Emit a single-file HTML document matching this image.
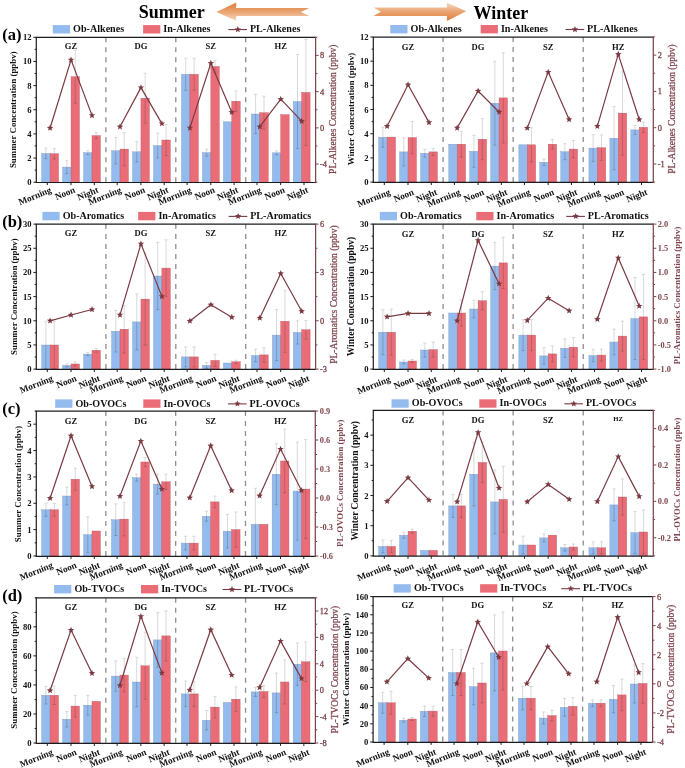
<!DOCTYPE html>
<html><head><meta charset="utf-8"><style>
html,body{margin:0;padding:0;background:#fff;}
body{width:685px;height:768px;overflow:hidden;}
svg{display:block;filter:blur(0.3px);font-family:"Liberation Serif", serif;}
</style></head><body>
<svg width="685" height="768" viewBox="0 0 685 768">
<rect width="685" height="768" fill="#fff"/>

<defs>
<linearGradient id="gR" x1="0" y1="0" x2="0" y2="1">
<stop offset="0" stop-color="#f6d9c2"/><stop offset="0.45" stop-color="#eaa877"/><stop offset="1" stop-color="#df7b36"/>
</linearGradient>
<linearGradient id="gL" x1="0" y1="0" x2="0" y2="1">
<stop offset="0" stop-color="#df7b36"/><stop offset="0.55" stop-color="#eaa877"/><stop offset="1" stop-color="#f6d9c2"/>
</linearGradient>
</defs>
<text x="138.8" y="18.2" font-size="18" font-weight="bold" fill="#000">Summer</text>
<polygon points="216.4,11.9 236.2,2.6 236.2,7.9 309.2,7.9 301,12 309.2,16.1 236.2,16.1 236.2,20.7" fill="url(#gL)"/>
<polygon points="466.2,11.2 446.9,2.7 446.9,7.5 373.4,7.5 381,11.8 373.4,16.1 446.9,16.1 446.9,20.9" fill="url(#gR)"/>
<text x="473.5" y="18.5" font-size="18" font-weight="bold" fill="#000">Winter</text>
<rect x="41.70" y="153.40" width="8.40" height="28.80" fill="#94bbee" stroke="#7f9cc4" stroke-width="0.4"/>
<rect x="50.10" y="153.70" width="8.40" height="28.50" fill="#ea6c77" stroke="#b85862" stroke-width="0.4"/>
<rect x="62.65" y="167.10" width="8.40" height="15.10" fill="#94bbee" stroke="#7f9cc4" stroke-width="0.4"/>
<rect x="71.05" y="76.70" width="8.40" height="105.50" fill="#ea6c77" stroke="#b85862" stroke-width="0.4"/>
<rect x="83.60" y="152.60" width="8.40" height="29.60" fill="#94bbee" stroke="#7f9cc4" stroke-width="0.4"/>
<rect x="92.00" y="135.60" width="8.40" height="46.60" fill="#ea6c77" stroke="#b85862" stroke-width="0.4"/>
<rect x="111.60" y="150.70" width="8.40" height="31.50" fill="#94bbee" stroke="#7f9cc4" stroke-width="0.4"/>
<rect x="120.00" y="149.10" width="8.40" height="33.10" fill="#ea6c77" stroke="#b85862" stroke-width="0.4"/>
<rect x="132.55" y="151.80" width="8.40" height="30.40" fill="#94bbee" stroke="#7f9cc4" stroke-width="0.4"/>
<rect x="140.95" y="98.20" width="8.40" height="84.00" fill="#ea6c77" stroke="#b85862" stroke-width="0.4"/>
<rect x="153.50" y="145.60" width="8.40" height="36.60" fill="#94bbee" stroke="#7f9cc4" stroke-width="0.4"/>
<rect x="161.90" y="140.00" width="8.40" height="42.20" fill="#ea6c77" stroke="#b85862" stroke-width="0.4"/>
<rect x="181.50" y="74.30" width="8.40" height="107.90" fill="#94bbee" stroke="#7f9cc4" stroke-width="0.4"/>
<rect x="189.90" y="74.30" width="8.40" height="107.90" fill="#ea6c77" stroke="#b85862" stroke-width="0.4"/>
<rect x="202.45" y="152.60" width="8.40" height="29.60" fill="#94bbee" stroke="#7f9cc4" stroke-width="0.4"/>
<rect x="210.85" y="66.50" width="8.40" height="115.70" fill="#ea6c77" stroke="#b85862" stroke-width="0.4"/>
<rect x="223.40" y="121.80" width="8.40" height="60.40" fill="#94bbee" stroke="#7f9cc4" stroke-width="0.4"/>
<rect x="231.80" y="101.20" width="8.40" height="81.00" fill="#ea6c77" stroke="#b85862" stroke-width="0.4"/>
<rect x="251.40" y="114.00" width="8.40" height="68.20" fill="#94bbee" stroke="#7f9cc4" stroke-width="0.4"/>
<rect x="259.80" y="112.70" width="8.40" height="69.50" fill="#ea6c77" stroke="#b85862" stroke-width="0.4"/>
<rect x="272.35" y="152.80" width="8.40" height="29.40" fill="#94bbee" stroke="#7f9cc4" stroke-width="0.4"/>
<rect x="280.75" y="114.70" width="8.40" height="67.50" fill="#ea6c77" stroke="#b85862" stroke-width="0.4"/>
<rect x="293.30" y="101.50" width="8.40" height="80.70" fill="#94bbee" stroke="#7f9cc4" stroke-width="0.4"/>
<rect x="301.70" y="92.40" width="8.40" height="89.80" fill="#ea6c77" stroke="#b85862" stroke-width="0.4"/>
<path d="M45.90 148.10V153.40M44.30 148.10H47.50" stroke="#cfcfcf" stroke-width="0.8" fill="none"/>
<path d="M45.90 153.40V158.70M44.30 158.70H47.50" stroke="#3a3a3a" stroke-opacity="0.33" stroke-width="0.8" fill="none"/>
<path d="M54.30 148.40V153.70M52.70 148.40H55.90" stroke="#cfcfcf" stroke-width="0.8" fill="none"/>
<path d="M54.30 153.70V159.00M52.70 159.00H55.90" stroke="#3a3a3a" stroke-opacity="0.33" stroke-width="0.8" fill="none"/>
<path d="M66.85 160.70V167.10M65.25 160.70H68.45" stroke="#cfcfcf" stroke-width="0.8" fill="none"/>
<path d="M66.85 167.10V173.50M65.25 173.50H68.45" stroke="#3a3a3a" stroke-opacity="0.33" stroke-width="0.8" fill="none"/>
<path d="M75.25 50.20V76.70M73.65 50.20H76.85" stroke="#cfcfcf" stroke-width="0.8" fill="none"/>
<path d="M75.25 76.70V103.20M73.65 103.20H76.85" stroke="#3a3a3a" stroke-opacity="0.33" stroke-width="0.8" fill="none"/>
<path d="M87.80 150.70V152.60M86.20 150.70H89.40" stroke="#cfcfcf" stroke-width="0.8" fill="none"/>
<path d="M87.80 152.60V154.50M86.20 154.50H89.40" stroke="#3a3a3a" stroke-opacity="0.33" stroke-width="0.8" fill="none"/>
<path d="M96.20 132.60V135.60M94.60 132.60H97.80" stroke="#cfcfcf" stroke-width="0.8" fill="none"/>
<path d="M96.20 135.60V138.60M94.60 138.60H97.80" stroke="#3a3a3a" stroke-opacity="0.33" stroke-width="0.8" fill="none"/>
<path d="M115.80 137.40V150.70M114.20 137.40H117.40" stroke="#cfcfcf" stroke-width="0.8" fill="none"/>
<path d="M115.80 150.70V164.00M114.20 164.00H117.40" stroke="#3a3a3a" stroke-opacity="0.33" stroke-width="0.8" fill="none"/>
<path d="M124.20 132.50V149.10M122.60 132.50H125.80" stroke="#cfcfcf" stroke-width="0.8" fill="none"/>
<path d="M124.20 149.10V165.70M122.60 165.70H125.80" stroke="#3a3a3a" stroke-opacity="0.33" stroke-width="0.8" fill="none"/>
<path d="M136.75 141.60V151.80M135.15 141.60H138.35" stroke="#cfcfcf" stroke-width="0.8" fill="none"/>
<path d="M136.75 151.80V162.00M135.15 162.00H138.35" stroke="#3a3a3a" stroke-opacity="0.33" stroke-width="0.8" fill="none"/>
<path d="M145.15 73.20V98.20M143.55 73.20H146.75" stroke="#cfcfcf" stroke-width="0.8" fill="none"/>
<path d="M145.15 98.20V123.20M143.55 123.20H146.75" stroke="#3a3a3a" stroke-opacity="0.33" stroke-width="0.8" fill="none"/>
<path d="M157.70 133.20V145.60M156.10 133.20H159.30" stroke="#cfcfcf" stroke-width="0.8" fill="none"/>
<path d="M157.70 145.60V158.00M156.10 158.00H159.30" stroke="#3a3a3a" stroke-opacity="0.33" stroke-width="0.8" fill="none"/>
<path d="M166.10 124.50V140.00M164.50 124.50H167.70" stroke="#cfcfcf" stroke-width="0.8" fill="none"/>
<path d="M166.10 140.00V155.50M164.50 155.50H167.70" stroke="#3a3a3a" stroke-opacity="0.33" stroke-width="0.8" fill="none"/>
<path d="M185.70 58.30V74.30M184.10 58.30H187.30" stroke="#cfcfcf" stroke-width="0.8" fill="none"/>
<path d="M185.70 74.30V90.30M184.10 90.30H187.30" stroke="#3a3a3a" stroke-opacity="0.33" stroke-width="0.8" fill="none"/>
<path d="M194.10 58.30V74.30M192.50 58.30H195.70" stroke="#cfcfcf" stroke-width="0.8" fill="none"/>
<path d="M194.10 74.30V90.30M192.50 90.30H195.70" stroke="#3a3a3a" stroke-opacity="0.33" stroke-width="0.8" fill="none"/>
<path d="M206.65 149.10V152.60M205.05 149.10H208.25" stroke="#cfcfcf" stroke-width="0.8" fill="none"/>
<path d="M206.65 152.60V156.10M205.05 156.10H208.25" stroke="#3a3a3a" stroke-opacity="0.33" stroke-width="0.8" fill="none"/>
<path d="M215.05 60.70V66.50M213.45 60.70H216.65" stroke="#cfcfcf" stroke-width="0.8" fill="none"/>
<path d="M215.05 66.50V72.30M213.45 72.30H216.65" stroke="#3a3a3a" stroke-opacity="0.33" stroke-width="0.8" fill="none"/>
<path d="M236.00 90.80V101.20M234.40 90.80H237.60" stroke="#cfcfcf" stroke-width="0.8" fill="none"/>
<path d="M236.00 101.20V111.60M234.40 111.60H237.60" stroke="#3a3a3a" stroke-opacity="0.33" stroke-width="0.8" fill="none"/>
<path d="M255.60 94.50V114.00M254.00 94.50H257.20" stroke="#cfcfcf" stroke-width="0.8" fill="none"/>
<path d="M255.60 114.00V133.50M254.00 133.50H257.20" stroke="#3a3a3a" stroke-opacity="0.33" stroke-width="0.8" fill="none"/>
<path d="M264.00 96.20V112.70M262.40 96.20H265.60" stroke="#cfcfcf" stroke-width="0.8" fill="none"/>
<path d="M264.00 112.70V129.20M262.40 129.20H265.60" stroke="#3a3a3a" stroke-opacity="0.33" stroke-width="0.8" fill="none"/>
<path d="M276.55 150.80V152.80M274.95 150.80H278.15" stroke="#cfcfcf" stroke-width="0.8" fill="none"/>
<path d="M276.55 152.80V154.80M274.95 154.80H278.15" stroke="#3a3a3a" stroke-opacity="0.33" stroke-width="0.8" fill="none"/>
<path d="M297.50 54.50V101.50M295.90 54.50H299.10" stroke="#cfcfcf" stroke-width="0.8" fill="none"/>
<path d="M297.50 101.50V148.50M295.90 148.50H299.10" stroke="#3a3a3a" stroke-opacity="0.33" stroke-width="0.8" fill="none"/>
<path d="M305.90 39.40V92.40M304.30 39.40H307.50" stroke="#cfcfcf" stroke-width="0.8" fill="none"/>
<path d="M305.90 92.40V145.40M304.30 145.40H307.50" stroke="#3a3a3a" stroke-opacity="0.33" stroke-width="0.8" fill="none"/>
<line x1="105.90" y1="37.30" x2="105.90" y2="182.20" stroke="#8e8e8e" stroke-width="1.3" stroke-dasharray="5 5"/>
<line x1="175.80" y1="37.30" x2="175.80" y2="182.20" stroke="#8e8e8e" stroke-width="1.3" stroke-dasharray="5 5"/>
<line x1="245.70" y1="37.30" x2="245.70" y2="182.20" stroke="#8e8e8e" stroke-width="1.3" stroke-dasharray="5 5"/>
<polyline points="50.10,128.00 71.05,59.90 92.00,115.40" fill="none" stroke="#7b3a42" stroke-width="1.2"/>
<polygon points="50.10,124.60 50.98,126.79 53.33,126.95 51.53,128.46 52.10,130.75 50.10,129.50 48.10,130.75 48.67,128.46 46.87,126.95 49.22,126.79" fill="#7b3a42"/>
<polygon points="71.05,56.50 71.93,58.69 74.28,58.85 72.48,60.36 73.05,62.65 71.05,61.40 69.05,62.65 69.62,60.36 67.82,58.85 70.17,58.69" fill="#7b3a42"/>
<polygon points="92.00,112.00 92.88,114.19 95.23,114.35 93.43,115.86 94.00,118.15 92.00,116.90 90.00,118.15 90.57,115.86 88.77,114.35 91.12,114.19" fill="#7b3a42"/>
<polyline points="120.00,126.70 140.95,87.60 161.90,123.60" fill="none" stroke="#7b3a42" stroke-width="1.2"/>
<polygon points="120.00,123.30 120.88,125.49 123.23,125.65 121.43,127.16 122.00,129.45 120.00,128.20 118.00,129.45 118.57,127.16 116.77,125.65 119.12,125.49" fill="#7b3a42"/>
<polygon points="140.95,84.20 141.83,86.39 144.18,86.55 142.38,88.06 142.95,90.35 140.95,89.10 138.95,90.35 139.52,88.06 137.72,86.55 140.07,86.39" fill="#7b3a42"/>
<polygon points="161.90,120.20 162.78,122.39 165.13,122.55 163.33,124.06 163.90,126.35 161.90,125.10 159.90,126.35 160.47,124.06 158.67,122.55 161.02,122.39" fill="#7b3a42"/>
<polyline points="189.90,127.90 210.85,63.20 231.80,112.30" fill="none" stroke="#7b3a42" stroke-width="1.2"/>
<polygon points="189.90,124.50 190.78,126.69 193.13,126.85 191.33,128.36 191.90,130.65 189.90,129.40 187.90,130.65 188.47,128.36 186.67,126.85 189.02,126.69" fill="#7b3a42"/>
<polygon points="210.85,59.80 211.73,61.99 214.08,62.15 212.28,63.66 212.85,65.95 210.85,64.70 208.85,65.95 209.42,63.66 207.62,62.15 209.97,61.99" fill="#7b3a42"/>
<polygon points="231.80,108.90 232.68,111.09 235.03,111.25 233.23,112.76 233.80,115.05 231.80,113.80 229.80,115.05 230.37,112.76 228.57,111.25 230.92,111.09" fill="#7b3a42"/>
<polyline points="259.80,126.70 280.75,99.20 301.70,121.20" fill="none" stroke="#7b3a42" stroke-width="1.2"/>
<polygon points="259.80,123.30 260.68,125.49 263.03,125.65 261.23,127.16 261.80,129.45 259.80,128.20 257.80,129.45 258.37,127.16 256.57,125.65 258.92,125.49" fill="#7b3a42"/>
<polygon points="280.75,95.80 281.63,97.99 283.98,98.15 282.18,99.66 282.75,101.95 280.75,100.70 278.75,101.95 279.32,99.66 277.52,98.15 279.87,97.99" fill="#7b3a42"/>
<polygon points="301.70,117.80 302.58,119.99 304.93,120.15 303.13,121.66 303.70,123.95 301.70,122.70 299.70,123.95 300.27,121.66 298.47,120.15 300.82,119.99" fill="#7b3a42"/>
<text x="71.00" y="48.60" font-size="8.6" font-weight="bold" text-anchor="middle" fill="#111">GZ</text>
<text x="140.90" y="48.60" font-size="8.6" font-weight="bold" text-anchor="middle" fill="#111">DG</text>
<text x="210.80" y="48.60" font-size="8.6" font-weight="bold" text-anchor="middle" fill="#111">SZ</text>
<text x="280.70" y="48.60" font-size="8.6" font-weight="bold" text-anchor="middle" fill="#111">HZ</text>
<line x1="35.70" y1="37.30" x2="315.60" y2="37.30" stroke="#1c1c1c" stroke-width="1.25"/>
<line x1="35.70" y1="182.50" x2="315.60" y2="182.50" stroke="#1c1c1c" stroke-width="1.2"/>
<line x1="36.30" y1="37.30" x2="36.30" y2="182.50" stroke="#1c1c1c" stroke-width="1.2"/>
<line x1="315.60" y1="36.70" x2="315.60" y2="183.10" stroke="#7e444c" stroke-width="1.25"/>
<line x1="33.40" y1="182.20" x2="36.30" y2="182.20" stroke="#1c1c1c" stroke-width="1"/>
<line x1="34.70" y1="170.12" x2="36.30" y2="170.12" stroke="#1c1c1c" stroke-width="1"/>
<line x1="33.40" y1="158.05" x2="36.30" y2="158.05" stroke="#1c1c1c" stroke-width="1"/>
<line x1="34.70" y1="145.97" x2="36.30" y2="145.97" stroke="#1c1c1c" stroke-width="1"/>
<line x1="33.40" y1="133.90" x2="36.30" y2="133.90" stroke="#1c1c1c" stroke-width="1"/>
<line x1="34.70" y1="121.82" x2="36.30" y2="121.82" stroke="#1c1c1c" stroke-width="1"/>
<line x1="33.40" y1="109.75" x2="36.30" y2="109.75" stroke="#1c1c1c" stroke-width="1"/>
<line x1="34.70" y1="97.67" x2="36.30" y2="97.67" stroke="#1c1c1c" stroke-width="1"/>
<line x1="33.40" y1="85.60" x2="36.30" y2="85.60" stroke="#1c1c1c" stroke-width="1"/>
<line x1="34.70" y1="73.53" x2="36.30" y2="73.53" stroke="#1c1c1c" stroke-width="1"/>
<line x1="33.40" y1="61.45" x2="36.30" y2="61.45" stroke="#1c1c1c" stroke-width="1"/>
<line x1="34.70" y1="49.38" x2="36.30" y2="49.38" stroke="#1c1c1c" stroke-width="1"/>
<line x1="33.40" y1="37.30" x2="36.30" y2="37.30" stroke="#1c1c1c" stroke-width="1"/>
<text x="31.50" y="185.20" font-size="8.6" font-weight="bold" text-anchor="end" fill="#111">0</text>
<text x="31.50" y="161.05" font-size="8.6" font-weight="bold" text-anchor="end" fill="#111">2</text>
<text x="31.50" y="136.90" font-size="8.6" font-weight="bold" text-anchor="end" fill="#111">4</text>
<text x="31.50" y="112.75" font-size="8.6" font-weight="bold" text-anchor="end" fill="#111">6</text>
<text x="31.50" y="88.60" font-size="8.6" font-weight="bold" text-anchor="end" fill="#111">8</text>
<text x="31.50" y="64.45" font-size="8.6" font-weight="bold" text-anchor="end" fill="#111">10</text>
<text x="31.50" y="40.30" font-size="8.6" font-weight="bold" text-anchor="end" fill="#111">12</text>
<line x1="315.60" y1="182.20" x2="317.40" y2="182.20" stroke="#7e444c" stroke-width="1"/>
<line x1="315.60" y1="164.09" x2="318.60" y2="164.09" stroke="#7e444c" stroke-width="1"/>
<line x1="315.60" y1="145.97" x2="317.40" y2="145.97" stroke="#7e444c" stroke-width="1"/>
<line x1="315.60" y1="127.86" x2="318.60" y2="127.86" stroke="#7e444c" stroke-width="1"/>
<line x1="315.60" y1="109.75" x2="317.40" y2="109.75" stroke="#7e444c" stroke-width="1"/>
<line x1="315.60" y1="91.64" x2="318.60" y2="91.64" stroke="#7e444c" stroke-width="1"/>
<line x1="315.60" y1="73.53" x2="317.40" y2="73.53" stroke="#7e444c" stroke-width="1"/>
<line x1="315.60" y1="55.41" x2="318.60" y2="55.41" stroke="#7e444c" stroke-width="1"/>
<line x1="315.60" y1="37.30" x2="317.40" y2="37.30" stroke="#7e444c" stroke-width="1"/>
<text x="320.00" y="166.99" font-size="8.4" stroke="#7e444c" stroke-width="0.3" text-anchor="start" fill="#7e444c">-4</text>
<text x="320.00" y="130.76" font-size="8.4" stroke="#7e444c" stroke-width="0.3" text-anchor="start" fill="#7e444c">0</text>
<text x="320.00" y="94.54" font-size="8.4" stroke="#7e444c" stroke-width="0.3" text-anchor="start" fill="#7e444c">4</text>
<text x="320.00" y="58.31" font-size="8.4" stroke="#7e444c" stroke-width="0.3" text-anchor="start" fill="#7e444c">8</text>
<line x1="47.30" y1="182.50" x2="47.30" y2="185.10" stroke="#1c1c1c" stroke-width="1"/>
<text transform="translate(52.10 192.20) rotate(-22)" font-size="9.2" font-weight="bold" text-anchor="end" fill="#111">Morning</text>
<line x1="71.00" y1="182.50" x2="71.00" y2="185.10" stroke="#1c1c1c" stroke-width="1"/>
<text transform="translate(75.80 192.20) rotate(-22)" font-size="9.2" font-weight="bold" text-anchor="end" fill="#111">Noon</text>
<line x1="94.30" y1="182.50" x2="94.30" y2="185.10" stroke="#1c1c1c" stroke-width="1"/>
<text transform="translate(99.10 192.20) rotate(-22)" font-size="9.2" font-weight="bold" text-anchor="end" fill="#111">Night</text>
<line x1="117.20" y1="182.50" x2="117.20" y2="185.10" stroke="#1c1c1c" stroke-width="1"/>
<text transform="translate(122.00 192.20) rotate(-22)" font-size="9.2" font-weight="bold" text-anchor="end" fill="#111">Morning</text>
<line x1="140.90" y1="182.50" x2="140.90" y2="185.10" stroke="#1c1c1c" stroke-width="1"/>
<text transform="translate(145.70 192.20) rotate(-22)" font-size="9.2" font-weight="bold" text-anchor="end" fill="#111">Noon</text>
<line x1="164.20" y1="182.50" x2="164.20" y2="185.10" stroke="#1c1c1c" stroke-width="1"/>
<text transform="translate(169.00 192.20) rotate(-22)" font-size="9.2" font-weight="bold" text-anchor="end" fill="#111">Night</text>
<line x1="187.10" y1="182.50" x2="187.10" y2="185.10" stroke="#1c1c1c" stroke-width="1"/>
<text transform="translate(191.90 192.20) rotate(-22)" font-size="9.2" font-weight="bold" text-anchor="end" fill="#111">Morning</text>
<line x1="210.80" y1="182.50" x2="210.80" y2="185.10" stroke="#1c1c1c" stroke-width="1"/>
<text transform="translate(215.60 192.20) rotate(-22)" font-size="9.2" font-weight="bold" text-anchor="end" fill="#111">Noon</text>
<line x1="234.10" y1="182.50" x2="234.10" y2="185.10" stroke="#1c1c1c" stroke-width="1"/>
<text transform="translate(238.90 192.20) rotate(-22)" font-size="9.2" font-weight="bold" text-anchor="end" fill="#111">Night</text>
<line x1="257.00" y1="182.50" x2="257.00" y2="185.10" stroke="#1c1c1c" stroke-width="1"/>
<text transform="translate(261.80 192.20) rotate(-22)" font-size="9.2" font-weight="bold" text-anchor="end" fill="#111">Morning</text>
<line x1="280.70" y1="182.50" x2="280.70" y2="185.10" stroke="#1c1c1c" stroke-width="1"/>
<text transform="translate(285.50 192.20) rotate(-22)" font-size="9.2" font-weight="bold" text-anchor="end" fill="#111">Noon</text>
<line x1="304.00" y1="182.50" x2="304.00" y2="185.10" stroke="#1c1c1c" stroke-width="1"/>
<text transform="translate(308.80 192.20) rotate(-22)" font-size="9.2" font-weight="bold" text-anchor="end" fill="#111">Night</text>
<text transform="translate(16.41 109.75) rotate(-90)" font-size="8.90" font-weight="bold" text-anchor="middle" fill="#111">Summer Concentration (ppbv)</text>
<text transform="translate(336.17 109.25) rotate(-90)" font-size="9.50" stroke="#7e444c" stroke-width="0.25" text-anchor="middle" fill="#7e444c">PL-Alkenes Concentration (ppbv)</text>
<rect x="52.80" y="25.10" width="17.2" height="8.4" fill="#94bbee"/>
<text x="73.10" y="32.20" font-size="10.1" font-weight="bold" fill="#111">Ob-Alkenes</text>
<rect x="143.10" y="25.10" width="17.2" height="8.4" fill="#ea6c77"/>
<text x="163.30" y="32.20" font-size="10.1" font-weight="bold" fill="#111">In-Alkenes</text>
<line x1="228.30" y1="29.60" x2="247.00" y2="29.60" stroke="#7b3a42" stroke-width="1.1"/>
<polygon points="237.80,26.10 238.68,28.29 241.03,28.45 239.23,29.96 239.80,32.25 237.80,31.00 235.80,32.25 236.37,29.96 234.57,28.45 236.92,28.29" fill="#7b3a42"/>
<text x="249.90" y="32.20" font-size="10.1" font-weight="bold" fill="#111">PL-Alkenes</text>
<text x="2.2" y="39.90" font-size="16.5" font-weight="bold" fill="#000">(a)</text>
<rect x="378.70" y="137.30" width="8.40" height="44.80" fill="#94bbee" stroke="#7f9cc4" stroke-width="0.4"/>
<rect x="387.10" y="137.10" width="8.40" height="45.00" fill="#ea6c77" stroke="#b85862" stroke-width="0.4"/>
<rect x="399.65" y="151.90" width="8.40" height="30.20" fill="#94bbee" stroke="#7f9cc4" stroke-width="0.4"/>
<rect x="408.05" y="137.60" width="8.40" height="44.50" fill="#ea6c77" stroke="#b85862" stroke-width="0.4"/>
<rect x="420.60" y="153.20" width="8.40" height="28.90" fill="#94bbee" stroke="#7f9cc4" stroke-width="0.4"/>
<rect x="429.00" y="151.90" width="8.40" height="30.20" fill="#ea6c77" stroke="#b85862" stroke-width="0.4"/>
<rect x="448.78" y="144.20" width="8.40" height="37.90" fill="#94bbee" stroke="#7f9cc4" stroke-width="0.4"/>
<rect x="457.18" y="144.20" width="8.40" height="37.90" fill="#ea6c77" stroke="#b85862" stroke-width="0.4"/>
<rect x="469.73" y="151.30" width="8.40" height="30.80" fill="#94bbee" stroke="#7f9cc4" stroke-width="0.4"/>
<rect x="478.12" y="139.20" width="8.40" height="42.90" fill="#ea6c77" stroke="#b85862" stroke-width="0.4"/>
<rect x="490.68" y="103.20" width="8.40" height="78.90" fill="#94bbee" stroke="#7f9cc4" stroke-width="0.4"/>
<rect x="499.07" y="97.90" width="8.40" height="84.20" fill="#ea6c77" stroke="#b85862" stroke-width="0.4"/>
<rect x="518.85" y="144.80" width="8.40" height="37.30" fill="#94bbee" stroke="#7f9cc4" stroke-width="0.4"/>
<rect x="527.25" y="144.80" width="8.40" height="37.30" fill="#ea6c77" stroke="#b85862" stroke-width="0.4"/>
<rect x="539.80" y="162.20" width="8.40" height="19.90" fill="#94bbee" stroke="#7f9cc4" stroke-width="0.4"/>
<rect x="548.20" y="144.20" width="8.40" height="37.90" fill="#ea6c77" stroke="#b85862" stroke-width="0.4"/>
<rect x="560.75" y="151.70" width="8.40" height="30.40" fill="#94bbee" stroke="#7f9cc4" stroke-width="0.4"/>
<rect x="569.15" y="149.10" width="8.40" height="33.00" fill="#ea6c77" stroke="#b85862" stroke-width="0.4"/>
<rect x="588.92" y="148.10" width="8.40" height="34.00" fill="#94bbee" stroke="#7f9cc4" stroke-width="0.4"/>
<rect x="597.32" y="147.70" width="8.40" height="34.40" fill="#ea6c77" stroke="#b85862" stroke-width="0.4"/>
<rect x="609.87" y="138.20" width="8.40" height="43.90" fill="#94bbee" stroke="#7f9cc4" stroke-width="0.4"/>
<rect x="618.27" y="113.10" width="8.40" height="69.00" fill="#ea6c77" stroke="#b85862" stroke-width="0.4"/>
<rect x="630.82" y="129.90" width="8.40" height="52.20" fill="#94bbee" stroke="#7f9cc4" stroke-width="0.4"/>
<rect x="639.22" y="127.30" width="8.40" height="54.80" fill="#ea6c77" stroke="#b85862" stroke-width="0.4"/>
<path d="M382.90 127.30V137.30M381.30 127.30H384.50" stroke="#cfcfcf" stroke-width="0.8" fill="none"/>
<path d="M382.90 137.30V147.30M381.30 147.30H384.50" stroke="#3a3a3a" stroke-opacity="0.33" stroke-width="0.8" fill="none"/>
<path d="M403.85 137.90V151.90M402.25 137.90H405.45" stroke="#cfcfcf" stroke-width="0.8" fill="none"/>
<path d="M403.85 151.90V165.90M402.25 165.90H405.45" stroke="#3a3a3a" stroke-opacity="0.33" stroke-width="0.8" fill="none"/>
<path d="M412.25 121.60V137.60M410.65 121.60H413.85" stroke="#cfcfcf" stroke-width="0.8" fill="none"/>
<path d="M412.25 137.60V153.60M410.65 153.60H413.85" stroke="#3a3a3a" stroke-opacity="0.33" stroke-width="0.8" fill="none"/>
<path d="M424.80 149.30V153.20M423.20 149.30H426.40" stroke="#cfcfcf" stroke-width="0.8" fill="none"/>
<path d="M424.80 153.20V157.10M423.20 157.10H426.40" stroke="#3a3a3a" stroke-opacity="0.33" stroke-width="0.8" fill="none"/>
<path d="M433.20 148.40V151.90M431.60 148.40H434.80" stroke="#cfcfcf" stroke-width="0.8" fill="none"/>
<path d="M433.20 151.90V155.40M431.60 155.40H434.80" stroke="#3a3a3a" stroke-opacity="0.33" stroke-width="0.8" fill="none"/>
<path d="M461.38 131.20V144.20M459.77 131.20H462.98" stroke="#cfcfcf" stroke-width="0.8" fill="none"/>
<path d="M461.38 144.20V157.20M459.77 157.20H462.98" stroke="#3a3a3a" stroke-opacity="0.33" stroke-width="0.8" fill="none"/>
<path d="M473.93 135.30V151.30M472.32 135.30H475.53" stroke="#cfcfcf" stroke-width="0.8" fill="none"/>
<path d="M473.93 151.30V167.30M472.32 167.30H475.53" stroke="#3a3a3a" stroke-opacity="0.33" stroke-width="0.8" fill="none"/>
<path d="M482.32 118.70V139.20M480.72 118.70H483.93" stroke="#cfcfcf" stroke-width="0.8" fill="none"/>
<path d="M482.32 139.20V159.70M480.72 159.70H483.93" stroke="#3a3a3a" stroke-opacity="0.33" stroke-width="0.8" fill="none"/>
<path d="M494.88 61.20V103.20M493.27 61.20H496.48" stroke="#cfcfcf" stroke-width="0.8" fill="none"/>
<path d="M494.88 103.20V145.20M493.27 145.20H496.48" stroke="#3a3a3a" stroke-opacity="0.33" stroke-width="0.8" fill="none"/>
<path d="M503.27 52.90V97.90M501.67 52.90H504.88" stroke="#cfcfcf" stroke-width="0.8" fill="none"/>
<path d="M503.27 97.90V142.90M501.67 142.90H504.88" stroke="#3a3a3a" stroke-opacity="0.33" stroke-width="0.8" fill="none"/>
<path d="M531.45 127.80V144.80M529.85 127.80H533.05" stroke="#cfcfcf" stroke-width="0.8" fill="none"/>
<path d="M531.45 144.80V161.80M529.85 161.80H533.05" stroke="#3a3a3a" stroke-opacity="0.33" stroke-width="0.8" fill="none"/>
<path d="M544.00 159.00V162.20M542.40 159.00H545.60" stroke="#cfcfcf" stroke-width="0.8" fill="none"/>
<path d="M544.00 162.20V165.40M542.40 165.40H545.60" stroke="#3a3a3a" stroke-opacity="0.33" stroke-width="0.8" fill="none"/>
<path d="M552.40 139.40V144.20M550.80 139.40H554.00" stroke="#cfcfcf" stroke-width="0.8" fill="none"/>
<path d="M552.40 144.20V149.00M550.80 149.00H554.00" stroke="#3a3a3a" stroke-opacity="0.33" stroke-width="0.8" fill="none"/>
<path d="M564.95 143.70V151.70M563.35 143.70H566.55" stroke="#cfcfcf" stroke-width="0.8" fill="none"/>
<path d="M564.95 151.70V159.70M563.35 159.70H566.55" stroke="#3a3a3a" stroke-opacity="0.33" stroke-width="0.8" fill="none"/>
<path d="M573.35 140.50V149.10M571.75 140.50H574.95" stroke="#cfcfcf" stroke-width="0.8" fill="none"/>
<path d="M573.35 149.10V157.70M571.75 157.70H574.95" stroke="#3a3a3a" stroke-opacity="0.33" stroke-width="0.8" fill="none"/>
<path d="M593.12 134.80V148.10M591.52 134.80H594.72" stroke="#cfcfcf" stroke-width="0.8" fill="none"/>
<path d="M593.12 148.10V161.40M591.52 161.40H594.72" stroke="#3a3a3a" stroke-opacity="0.33" stroke-width="0.8" fill="none"/>
<path d="M601.52 135.00V147.70M599.92 135.00H603.12" stroke="#cfcfcf" stroke-width="0.8" fill="none"/>
<path d="M601.52 147.70V160.40M599.92 160.40H603.12" stroke="#3a3a3a" stroke-opacity="0.33" stroke-width="0.8" fill="none"/>
<path d="M614.07 106.60V138.20M612.47 106.60H615.67" stroke="#cfcfcf" stroke-width="0.8" fill="none"/>
<path d="M614.07 138.20V169.80M612.47 169.80H615.67" stroke="#3a3a3a" stroke-opacity="0.33" stroke-width="0.8" fill="none"/>
<path d="M622.47 71.10V113.10M620.87 71.10H624.07" stroke="#cfcfcf" stroke-width="0.8" fill="none"/>
<path d="M622.47 113.10V155.10M620.87 155.10H624.07" stroke="#3a3a3a" stroke-opacity="0.33" stroke-width="0.8" fill="none"/>
<path d="M635.02 125.40V129.90M633.42 125.40H636.62" stroke="#cfcfcf" stroke-width="0.8" fill="none"/>
<path d="M635.02 129.90V134.40M633.42 134.40H636.62" stroke="#3a3a3a" stroke-opacity="0.33" stroke-width="0.8" fill="none"/>
<path d="M643.42 122.10V127.30M641.82 122.10H645.02" stroke="#cfcfcf" stroke-width="0.8" fill="none"/>
<path d="M643.42 127.30V132.50M641.82 132.50H645.02" stroke="#3a3a3a" stroke-opacity="0.33" stroke-width="0.8" fill="none"/>
<line x1="443.07" y1="37.00" x2="443.07" y2="182.10" stroke="#8e8e8e" stroke-width="1.3" stroke-dasharray="5 5"/>
<line x1="513.15" y1="37.00" x2="513.15" y2="182.10" stroke="#8e8e8e" stroke-width="1.3" stroke-dasharray="5 5"/>
<line x1="583.22" y1="37.00" x2="583.22" y2="182.10" stroke="#8e8e8e" stroke-width="1.3" stroke-dasharray="5 5"/>
<polyline points="387.10,126.30 408.05,84.70 429.00,122.40" fill="none" stroke="#7b3a42" stroke-width="1.2"/>
<polygon points="387.10,122.90 387.98,125.09 390.33,125.25 388.53,126.76 389.10,129.05 387.10,127.80 385.10,129.05 385.67,126.76 383.87,125.25 386.22,125.09" fill="#7b3a42"/>
<polygon points="408.05,81.30 408.93,83.49 411.28,83.65 409.48,85.16 410.05,87.45 408.05,86.20 406.05,87.45 406.62,85.16 404.82,83.65 407.17,83.49" fill="#7b3a42"/>
<polygon points="429.00,119.00 429.88,121.19 432.23,121.35 430.43,122.86 431.00,125.15 429.00,123.90 427.00,125.15 427.57,122.86 425.77,121.35 428.12,121.19" fill="#7b3a42"/>
<polyline points="457.18,127.90 478.12,91.00 499.07,112.00" fill="none" stroke="#7b3a42" stroke-width="1.2"/>
<polygon points="457.18,124.50 458.06,126.69 460.41,126.85 458.60,128.36 459.17,130.65 457.18,129.40 455.18,130.65 455.75,128.36 453.94,126.85 456.29,126.69" fill="#7b3a42"/>
<polygon points="478.12,87.60 479.01,89.79 481.36,89.95 479.55,91.46 480.12,93.75 478.12,92.50 476.13,93.75 476.70,91.46 474.89,89.95 477.24,89.79" fill="#7b3a42"/>
<polygon points="499.07,108.60 499.96,110.79 502.31,110.95 500.50,112.46 501.07,114.75 499.07,113.50 497.08,114.75 497.65,112.46 495.84,110.95 498.19,110.79" fill="#7b3a42"/>
<polyline points="527.25,128.10 548.20,72.10 569.15,119.50" fill="none" stroke="#7b3a42" stroke-width="1.2"/>
<polygon points="527.25,124.70 528.13,126.89 530.48,127.05 528.68,128.56 529.25,130.85 527.25,129.60 525.25,130.85 525.82,128.56 524.02,127.05 526.37,126.89" fill="#7b3a42"/>
<polygon points="548.20,68.70 549.08,70.89 551.43,71.05 549.63,72.56 550.20,74.85 548.20,73.60 546.20,74.85 546.77,72.56 544.97,71.05 547.32,70.89" fill="#7b3a42"/>
<polygon points="569.15,116.10 570.03,118.29 572.38,118.45 570.58,119.96 571.15,122.25 569.15,121.00 567.15,122.25 567.72,119.96 565.92,118.45 568.27,118.29" fill="#7b3a42"/>
<polyline points="597.32,126.30 618.27,54.20 639.22,119.50" fill="none" stroke="#7b3a42" stroke-width="1.2"/>
<polygon points="597.32,122.90 598.21,125.09 600.56,125.25 598.75,126.76 599.32,129.05 597.32,127.80 595.33,129.05 595.90,126.76 594.09,125.25 596.44,125.09" fill="#7b3a42"/>
<polygon points="618.27,50.80 619.16,52.99 621.51,53.15 619.70,54.66 620.27,56.95 618.27,55.70 616.28,56.95 616.85,54.66 615.04,53.15 617.39,52.99" fill="#7b3a42"/>
<polygon points="639.22,116.10 640.11,118.29 642.46,118.45 640.65,119.96 641.22,122.25 639.22,121.00 637.23,122.25 637.80,119.96 635.99,118.45 638.34,118.29" fill="#7b3a42"/>
<text x="408.00" y="49.70" font-size="8.6" font-weight="bold" text-anchor="middle" fill="#111">GZ</text>
<text x="478.07" y="49.70" font-size="8.6" font-weight="bold" text-anchor="middle" fill="#111">DG</text>
<text x="548.15" y="49.70" font-size="8.6" font-weight="bold" text-anchor="middle" fill="#111">SZ</text>
<text x="618.22" y="49.70" font-size="8.6" font-weight="bold" text-anchor="middle" fill="#111">HZ</text>
<line x1="372.70" y1="37.00" x2="653.30" y2="37.00" stroke="#1c1c1c" stroke-width="1.25"/>
<line x1="372.70" y1="182.40" x2="653.30" y2="182.40" stroke="#1c1c1c" stroke-width="1.2"/>
<line x1="373.30" y1="37.00" x2="373.30" y2="182.40" stroke="#1c1c1c" stroke-width="1.2"/>
<line x1="653.30" y1="36.40" x2="653.30" y2="183.00" stroke="#7e444c" stroke-width="1.25"/>
<line x1="370.40" y1="182.10" x2="373.30" y2="182.10" stroke="#1c1c1c" stroke-width="1"/>
<line x1="371.70" y1="170.01" x2="373.30" y2="170.01" stroke="#1c1c1c" stroke-width="1"/>
<line x1="370.40" y1="157.92" x2="373.30" y2="157.92" stroke="#1c1c1c" stroke-width="1"/>
<line x1="371.70" y1="145.82" x2="373.30" y2="145.82" stroke="#1c1c1c" stroke-width="1"/>
<line x1="370.40" y1="133.73" x2="373.30" y2="133.73" stroke="#1c1c1c" stroke-width="1"/>
<line x1="371.70" y1="121.64" x2="373.30" y2="121.64" stroke="#1c1c1c" stroke-width="1"/>
<line x1="370.40" y1="109.55" x2="373.30" y2="109.55" stroke="#1c1c1c" stroke-width="1"/>
<line x1="371.70" y1="97.46" x2="373.30" y2="97.46" stroke="#1c1c1c" stroke-width="1"/>
<line x1="370.40" y1="85.37" x2="373.30" y2="85.37" stroke="#1c1c1c" stroke-width="1"/>
<line x1="371.70" y1="73.28" x2="373.30" y2="73.28" stroke="#1c1c1c" stroke-width="1"/>
<line x1="370.40" y1="61.18" x2="373.30" y2="61.18" stroke="#1c1c1c" stroke-width="1"/>
<line x1="371.70" y1="49.09" x2="373.30" y2="49.09" stroke="#1c1c1c" stroke-width="1"/>
<line x1="370.40" y1="37.00" x2="373.30" y2="37.00" stroke="#1c1c1c" stroke-width="1"/>
<text x="368.50" y="185.10" font-size="8.6" font-weight="bold" text-anchor="end" fill="#111">0</text>
<text x="368.50" y="160.92" font-size="8.6" font-weight="bold" text-anchor="end" fill="#111">2</text>
<text x="368.50" y="136.73" font-size="8.6" font-weight="bold" text-anchor="end" fill="#111">4</text>
<text x="368.50" y="112.55" font-size="8.6" font-weight="bold" text-anchor="end" fill="#111">6</text>
<text x="368.50" y="88.37" font-size="8.6" font-weight="bold" text-anchor="end" fill="#111">8</text>
<text x="368.50" y="64.18" font-size="8.6" font-weight="bold" text-anchor="end" fill="#111">10</text>
<text x="368.50" y="40.00" font-size="8.6" font-weight="bold" text-anchor="end" fill="#111">12</text>
<line x1="653.30" y1="182.10" x2="655.10" y2="182.10" stroke="#7e444c" stroke-width="1"/>
<line x1="653.30" y1="163.96" x2="656.30" y2="163.96" stroke="#7e444c" stroke-width="1"/>
<line x1="653.30" y1="145.82" x2="655.10" y2="145.82" stroke="#7e444c" stroke-width="1"/>
<line x1="653.30" y1="127.69" x2="656.30" y2="127.69" stroke="#7e444c" stroke-width="1"/>
<line x1="653.30" y1="109.55" x2="655.10" y2="109.55" stroke="#7e444c" stroke-width="1"/>
<line x1="653.30" y1="91.41" x2="656.30" y2="91.41" stroke="#7e444c" stroke-width="1"/>
<line x1="653.30" y1="73.28" x2="655.10" y2="73.28" stroke="#7e444c" stroke-width="1"/>
<line x1="653.30" y1="55.14" x2="656.30" y2="55.14" stroke="#7e444c" stroke-width="1"/>
<line x1="653.30" y1="37.00" x2="655.10" y2="37.00" stroke="#7e444c" stroke-width="1"/>
<text x="657.70" y="166.86" font-size="8.4" stroke="#7e444c" stroke-width="0.3" text-anchor="start" fill="#7e444c">-1</text>
<text x="657.70" y="130.59" font-size="8.4" stroke="#7e444c" stroke-width="0.3" text-anchor="start" fill="#7e444c">0</text>
<text x="657.70" y="94.31" font-size="8.4" stroke="#7e444c" stroke-width="0.3" text-anchor="start" fill="#7e444c">1</text>
<text x="657.70" y="58.04" font-size="8.4" stroke="#7e444c" stroke-width="0.3" text-anchor="start" fill="#7e444c">2</text>
<line x1="384.30" y1="182.40" x2="384.30" y2="185.00" stroke="#1c1c1c" stroke-width="1"/>
<text transform="translate(390.90 194.30) rotate(-22)" font-size="9.2" font-weight="bold" text-anchor="end" fill="#111">Morning</text>
<line x1="408.00" y1="182.40" x2="408.00" y2="185.00" stroke="#1c1c1c" stroke-width="1"/>
<text transform="translate(414.60 194.30) rotate(-22)" font-size="9.2" font-weight="bold" text-anchor="end" fill="#111">Noon</text>
<line x1="431.30" y1="182.40" x2="431.30" y2="185.00" stroke="#1c1c1c" stroke-width="1"/>
<text transform="translate(437.90 194.30) rotate(-22)" font-size="9.2" font-weight="bold" text-anchor="end" fill="#111">Night</text>
<line x1="454.38" y1="182.40" x2="454.38" y2="185.00" stroke="#1c1c1c" stroke-width="1"/>
<text transform="translate(460.98 194.30) rotate(-22)" font-size="9.2" font-weight="bold" text-anchor="end" fill="#111">Morning</text>
<line x1="478.07" y1="182.40" x2="478.07" y2="185.00" stroke="#1c1c1c" stroke-width="1"/>
<text transform="translate(484.68 194.30) rotate(-22)" font-size="9.2" font-weight="bold" text-anchor="end" fill="#111">Noon</text>
<line x1="501.38" y1="182.40" x2="501.38" y2="185.00" stroke="#1c1c1c" stroke-width="1"/>
<text transform="translate(507.98 194.30) rotate(-22)" font-size="9.2" font-weight="bold" text-anchor="end" fill="#111">Night</text>
<line x1="524.45" y1="182.40" x2="524.45" y2="185.00" stroke="#1c1c1c" stroke-width="1"/>
<text transform="translate(531.05 194.30) rotate(-22)" font-size="9.2" font-weight="bold" text-anchor="end" fill="#111">Morning</text>
<line x1="548.15" y1="182.40" x2="548.15" y2="185.00" stroke="#1c1c1c" stroke-width="1"/>
<text transform="translate(554.75 194.30) rotate(-22)" font-size="9.2" font-weight="bold" text-anchor="end" fill="#111">Noon</text>
<line x1="571.45" y1="182.40" x2="571.45" y2="185.00" stroke="#1c1c1c" stroke-width="1"/>
<text transform="translate(578.05 194.30) rotate(-22)" font-size="9.2" font-weight="bold" text-anchor="end" fill="#111">Night</text>
<line x1="594.52" y1="182.40" x2="594.52" y2="185.00" stroke="#1c1c1c" stroke-width="1"/>
<text transform="translate(601.12 194.30) rotate(-22)" font-size="9.2" font-weight="bold" text-anchor="end" fill="#111">Morning</text>
<line x1="618.22" y1="182.40" x2="618.22" y2="185.00" stroke="#1c1c1c" stroke-width="1"/>
<text transform="translate(624.82 194.30) rotate(-22)" font-size="9.2" font-weight="bold" text-anchor="end" fill="#111">Noon</text>
<line x1="641.52" y1="182.40" x2="641.52" y2="185.00" stroke="#1c1c1c" stroke-width="1"/>
<text transform="translate(648.12 194.30) rotate(-22)" font-size="9.2" font-weight="bold" text-anchor="end" fill="#111">Night</text>
<text transform="translate(353.54 109.05) rotate(-90)" font-size="8.99" font-weight="bold" text-anchor="middle" fill="#111">Winter Concentration (ppbv)</text>
<text transform="translate(674.57 109.05) rotate(-90)" font-size="9.50" stroke="#7e444c" stroke-width="0.25" text-anchor="middle" fill="#7e444c">PL-Alkenes Concentration (ppbv)</text>
<rect x="390.30" y="25.00" width="17.2" height="8.4" fill="#94bbee"/>
<text x="410.60" y="32.10" font-size="10.1" font-weight="bold" fill="#111">Ob-Alkenes</text>
<rect x="480.70" y="25.00" width="17.2" height="8.4" fill="#ea6c77"/>
<text x="500.90" y="32.10" font-size="10.1" font-weight="bold" fill="#111">In-Alkenes</text>
<line x1="565.50" y1="29.50" x2="584.20" y2="29.50" stroke="#7b3a42" stroke-width="1.1"/>
<polygon points="575.00,26.00 575.88,28.19 578.23,28.35 576.43,29.86 577.00,32.15 575.00,30.90 573.00,32.15 573.57,29.86 571.77,28.35 574.12,28.19" fill="#7b3a42"/>
<text x="587.10" y="32.10" font-size="10.1" font-weight="bold" fill="#111">PL-Alkenes</text>
<rect x="41.70" y="345.00" width="8.40" height="24.10" fill="#94bbee" stroke="#7f9cc4" stroke-width="0.4"/>
<rect x="50.10" y="345.00" width="8.40" height="24.10" fill="#ea6c77" stroke="#b85862" stroke-width="0.4"/>
<rect x="62.65" y="365.40" width="8.40" height="3.70" fill="#94bbee" stroke="#7f9cc4" stroke-width="0.4"/>
<rect x="71.05" y="364.00" width="8.40" height="5.10" fill="#ea6c77" stroke="#b85862" stroke-width="0.4"/>
<rect x="83.60" y="354.10" width="8.40" height="15.00" fill="#94bbee" stroke="#7f9cc4" stroke-width="0.4"/>
<rect x="92.00" y="350.20" width="8.40" height="18.90" fill="#ea6c77" stroke="#b85862" stroke-width="0.4"/>
<rect x="111.60" y="331.20" width="8.40" height="37.90" fill="#94bbee" stroke="#7f9cc4" stroke-width="0.4"/>
<rect x="120.00" y="329.20" width="8.40" height="39.90" fill="#ea6c77" stroke="#b85862" stroke-width="0.4"/>
<rect x="132.55" y="321.90" width="8.40" height="47.20" fill="#94bbee" stroke="#7f9cc4" stroke-width="0.4"/>
<rect x="140.95" y="299.10" width="8.40" height="70.00" fill="#ea6c77" stroke="#b85862" stroke-width="0.4"/>
<rect x="153.50" y="276.00" width="8.40" height="93.10" fill="#94bbee" stroke="#7f9cc4" stroke-width="0.4"/>
<rect x="161.90" y="268.10" width="8.40" height="101.00" fill="#ea6c77" stroke="#b85862" stroke-width="0.4"/>
<rect x="181.50" y="356.90" width="8.40" height="12.20" fill="#94bbee" stroke="#7f9cc4" stroke-width="0.4"/>
<rect x="189.90" y="356.90" width="8.40" height="12.20" fill="#ea6c77" stroke="#b85862" stroke-width="0.4"/>
<rect x="202.45" y="365.40" width="8.40" height="3.70" fill="#94bbee" stroke="#7f9cc4" stroke-width="0.4"/>
<rect x="210.85" y="360.40" width="8.40" height="8.70" fill="#ea6c77" stroke="#b85862" stroke-width="0.4"/>
<rect x="223.40" y="363.00" width="8.40" height="6.10" fill="#94bbee" stroke="#7f9cc4" stroke-width="0.4"/>
<rect x="231.80" y="361.80" width="8.40" height="7.30" fill="#ea6c77" stroke="#b85862" stroke-width="0.4"/>
<rect x="251.40" y="355.50" width="8.40" height="13.60" fill="#94bbee" stroke="#7f9cc4" stroke-width="0.4"/>
<rect x="259.80" y="354.90" width="8.40" height="14.20" fill="#ea6c77" stroke="#b85862" stroke-width="0.4"/>
<rect x="272.35" y="335.10" width="8.40" height="34.00" fill="#94bbee" stroke="#7f9cc4" stroke-width="0.4"/>
<rect x="280.75" y="321.30" width="8.40" height="47.80" fill="#ea6c77" stroke="#b85862" stroke-width="0.4"/>
<rect x="293.30" y="332.40" width="8.40" height="36.70" fill="#94bbee" stroke="#7f9cc4" stroke-width="0.4"/>
<rect x="301.70" y="329.80" width="8.40" height="39.30" fill="#ea6c77" stroke="#b85862" stroke-width="0.4"/>
<path d="M45.90 321.30V345.00M44.30 321.30H47.50" stroke="#cfcfcf" stroke-width="0.8" fill="none"/>
<path d="M45.90 345.00V368.70M44.30 368.70H47.50" stroke="#3a3a3a" stroke-opacity="0.33" stroke-width="0.8" fill="none"/>
<path d="M54.30 321.30V345.00M52.70 321.30H55.90" stroke="#cfcfcf" stroke-width="0.8" fill="none"/>
<path d="M54.30 345.00V368.70M52.70 368.70H55.90" stroke="#3a3a3a" stroke-opacity="0.33" stroke-width="0.8" fill="none"/>
<path d="M66.85 363.90V365.40M65.25 363.90H68.45" stroke="#cfcfcf" stroke-width="0.8" fill="none"/>
<path d="M66.85 365.40V366.90M65.25 366.90H68.45" stroke="#3a3a3a" stroke-opacity="0.33" stroke-width="0.8" fill="none"/>
<path d="M75.25 362.00V364.00M73.65 362.00H76.85" stroke="#cfcfcf" stroke-width="0.8" fill="none"/>
<path d="M75.25 364.00V366.00M73.65 366.00H76.85" stroke="#3a3a3a" stroke-opacity="0.33" stroke-width="0.8" fill="none"/>
<path d="M87.80 352.60V354.10M86.20 352.60H89.40" stroke="#cfcfcf" stroke-width="0.8" fill="none"/>
<path d="M87.80 354.10V355.60M86.20 355.60H89.40" stroke="#3a3a3a" stroke-opacity="0.33" stroke-width="0.8" fill="none"/>
<path d="M96.20 348.20V350.20M94.60 348.20H97.80" stroke="#cfcfcf" stroke-width="0.8" fill="none"/>
<path d="M96.20 350.20V352.20M94.60 352.20H97.80" stroke="#3a3a3a" stroke-opacity="0.33" stroke-width="0.8" fill="none"/>
<path d="M115.80 310.40V331.20M114.20 310.40H117.40" stroke="#cfcfcf" stroke-width="0.8" fill="none"/>
<path d="M115.80 331.20V352.00M114.20 352.00H117.40" stroke="#3a3a3a" stroke-opacity="0.33" stroke-width="0.8" fill="none"/>
<path d="M124.20 305.40V329.20M122.60 305.40H125.80" stroke="#cfcfcf" stroke-width="0.8" fill="none"/>
<path d="M124.20 329.20V353.00M122.60 353.00H125.80" stroke="#3a3a3a" stroke-opacity="0.33" stroke-width="0.8" fill="none"/>
<path d="M136.75 293.90V321.90M135.15 293.90H138.35" stroke="#cfcfcf" stroke-width="0.8" fill="none"/>
<path d="M136.75 321.90V349.90M135.15 349.90H138.35" stroke="#3a3a3a" stroke-opacity="0.33" stroke-width="0.8" fill="none"/>
<path d="M145.15 253.10V299.10M143.55 253.10H146.75" stroke="#cfcfcf" stroke-width="0.8" fill="none"/>
<path d="M145.15 299.10V345.10M143.55 345.10H146.75" stroke="#3a3a3a" stroke-opacity="0.33" stroke-width="0.8" fill="none"/>
<path d="M157.70 242.40V276.00M156.10 242.40H159.30" stroke="#cfcfcf" stroke-width="0.8" fill="none"/>
<path d="M157.70 276.00V309.60M156.10 309.60H159.30" stroke="#3a3a3a" stroke-opacity="0.33" stroke-width="0.8" fill="none"/>
<path d="M166.10 239.80V268.10M164.50 239.80H167.70" stroke="#cfcfcf" stroke-width="0.8" fill="none"/>
<path d="M166.10 268.10V296.40M164.50 296.40H167.70" stroke="#3a3a3a" stroke-opacity="0.33" stroke-width="0.8" fill="none"/>
<path d="M185.70 347.00V356.90M184.10 347.00H187.30" stroke="#cfcfcf" stroke-width="0.8" fill="none"/>
<path d="M185.70 356.90V366.80M184.10 366.80H187.30" stroke="#3a3a3a" stroke-opacity="0.33" stroke-width="0.8" fill="none"/>
<path d="M194.10 347.00V356.90M192.50 347.00H195.70" stroke="#cfcfcf" stroke-width="0.8" fill="none"/>
<path d="M194.10 356.90V366.80M192.50 366.80H195.70" stroke="#3a3a3a" stroke-opacity="0.33" stroke-width="0.8" fill="none"/>
<path d="M206.65 362.40V365.40M205.05 362.40H208.25" stroke="#cfcfcf" stroke-width="0.8" fill="none"/>
<path d="M206.65 365.40V368.40M205.05 368.40H208.25" stroke="#3a3a3a" stroke-opacity="0.33" stroke-width="0.8" fill="none"/>
<path d="M215.05 354.40V360.40M213.45 354.40H216.65" stroke="#cfcfcf" stroke-width="0.8" fill="none"/>
<path d="M215.05 360.40V366.40M213.45 366.40H216.65" stroke="#3a3a3a" stroke-opacity="0.33" stroke-width="0.8" fill="none"/>
<path d="M236.00 360.30V361.80M234.40 360.30H237.60" stroke="#cfcfcf" stroke-width="0.8" fill="none"/>
<path d="M236.00 361.80V363.30M234.40 363.30H237.60" stroke="#3a3a3a" stroke-opacity="0.33" stroke-width="0.8" fill="none"/>
<path d="M255.60 349.20V355.50M254.00 349.20H257.20" stroke="#cfcfcf" stroke-width="0.8" fill="none"/>
<path d="M255.60 355.50V361.80M254.00 361.80H257.20" stroke="#3a3a3a" stroke-opacity="0.33" stroke-width="0.8" fill="none"/>
<path d="M264.00 347.60V354.90M262.40 347.60H265.60" stroke="#cfcfcf" stroke-width="0.8" fill="none"/>
<path d="M264.00 354.90V362.20M262.40 362.20H265.60" stroke="#3a3a3a" stroke-opacity="0.33" stroke-width="0.8" fill="none"/>
<path d="M276.55 309.60V335.10M274.95 309.60H278.15" stroke="#cfcfcf" stroke-width="0.8" fill="none"/>
<path d="M276.55 335.10V360.60M274.95 360.60H278.15" stroke="#3a3a3a" stroke-opacity="0.33" stroke-width="0.8" fill="none"/>
<path d="M284.95 290.30V321.30M283.35 290.30H286.55" stroke="#cfcfcf" stroke-width="0.8" fill="none"/>
<path d="M284.95 321.30V352.30M283.35 352.30H286.55" stroke="#3a3a3a" stroke-opacity="0.33" stroke-width="0.8" fill="none"/>
<path d="M297.50 320.80V332.40M295.90 320.80H299.10" stroke="#cfcfcf" stroke-width="0.8" fill="none"/>
<path d="M297.50 332.40V344.00M295.90 344.00H299.10" stroke="#3a3a3a" stroke-opacity="0.33" stroke-width="0.8" fill="none"/>
<path d="M305.90 320.50V329.80M304.30 320.50H307.50" stroke="#cfcfcf" stroke-width="0.8" fill="none"/>
<path d="M305.90 329.80V339.10M304.30 339.10H307.50" stroke="#3a3a3a" stroke-opacity="0.33" stroke-width="0.8" fill="none"/>
<line x1="105.90" y1="224.10" x2="105.90" y2="369.10" stroke="#8e8e8e" stroke-width="1.3" stroke-dasharray="5 5"/>
<line x1="175.80" y1="224.10" x2="175.80" y2="369.10" stroke="#8e8e8e" stroke-width="1.3" stroke-dasharray="5 5"/>
<line x1="245.70" y1="224.10" x2="245.70" y2="369.10" stroke="#8e8e8e" stroke-width="1.3" stroke-dasharray="5 5"/>
<polyline points="50.10,320.80 71.05,315.00 92.00,309.50" fill="none" stroke="#7b3a42" stroke-width="1.2"/>
<polygon points="50.10,317.40 50.98,319.59 53.33,319.75 51.53,321.26 52.10,323.55 50.10,322.30 48.10,323.55 48.67,321.26 46.87,319.75 49.22,319.59" fill="#7b3a42"/>
<polygon points="71.05,311.60 71.93,313.79 74.28,313.95 72.48,315.46 73.05,317.75 71.05,316.50 69.05,317.75 69.62,315.46 67.82,313.95 70.17,313.79" fill="#7b3a42"/>
<polygon points="92.00,306.10 92.88,308.29 95.23,308.45 93.43,309.96 94.00,312.25 92.00,311.00 90.00,312.25 90.57,309.96 88.77,308.45 91.12,308.29" fill="#7b3a42"/>
<polyline points="120.00,314.90 140.95,243.90 161.90,296.40" fill="none" stroke="#7b3a42" stroke-width="1.2"/>
<polygon points="120.00,311.50 120.88,313.69 123.23,313.85 121.43,315.36 122.00,317.65 120.00,316.40 118.00,317.65 118.57,315.36 116.77,313.85 119.12,313.69" fill="#7b3a42"/>
<polygon points="140.95,240.50 141.83,242.69 144.18,242.85 142.38,244.36 142.95,246.65 140.95,245.40 138.95,246.65 139.52,244.36 137.72,242.85 140.07,242.69" fill="#7b3a42"/>
<polygon points="161.90,293.00 162.78,295.19 165.13,295.35 163.33,296.86 163.90,299.15 161.90,297.90 159.90,299.15 160.47,296.86 158.67,295.35 161.02,295.19" fill="#7b3a42"/>
<polyline points="189.90,321.00 210.85,304.80 231.80,317.30" fill="none" stroke="#7b3a42" stroke-width="1.2"/>
<polygon points="189.90,317.60 190.78,319.79 193.13,319.95 191.33,321.46 191.90,323.75 189.90,322.50 187.90,323.75 188.47,321.46 186.67,319.95 189.02,319.79" fill="#7b3a42"/>
<polygon points="210.85,301.40 211.73,303.59 214.08,303.75 212.28,305.26 212.85,307.55 210.85,306.30 208.85,307.55 209.42,305.26 207.62,303.75 209.97,303.59" fill="#7b3a42"/>
<polygon points="231.80,313.90 232.68,316.09 235.03,316.25 233.23,317.76 233.80,320.05 231.80,318.80 229.80,320.05 230.37,317.76 228.57,316.25 230.92,316.09" fill="#7b3a42"/>
<polyline points="259.80,318.00 280.75,273.50 301.70,311.30" fill="none" stroke="#7b3a42" stroke-width="1.2"/>
<polygon points="259.80,314.60 260.68,316.79 263.03,316.95 261.23,318.46 261.80,320.75 259.80,319.50 257.80,320.75 258.37,318.46 256.57,316.95 258.92,316.79" fill="#7b3a42"/>
<polygon points="280.75,270.10 281.63,272.29 283.98,272.45 282.18,273.96 282.75,276.25 280.75,275.00 278.75,276.25 279.32,273.96 277.52,272.45 279.87,272.29" fill="#7b3a42"/>
<polygon points="301.70,307.90 302.58,310.09 304.93,310.25 303.13,311.76 303.70,314.05 301.70,312.80 299.70,314.05 300.27,311.76 298.47,310.25 300.82,310.09" fill="#7b3a42"/>
<text x="71.00" y="236.40" font-size="8.6" font-weight="bold" text-anchor="middle" fill="#111">GZ</text>
<text x="140.90" y="236.40" font-size="8.6" font-weight="bold" text-anchor="middle" fill="#111">DG</text>
<text x="210.80" y="236.40" font-size="8.6" font-weight="bold" text-anchor="middle" fill="#111">SZ</text>
<text x="280.70" y="236.40" font-size="8.6" font-weight="bold" text-anchor="middle" fill="#111">HZ</text>
<line x1="35.70" y1="224.10" x2="315.60" y2="224.10" stroke="#1c1c1c" stroke-width="1.25"/>
<line x1="35.70" y1="369.40" x2="315.60" y2="369.40" stroke="#1c1c1c" stroke-width="1.2"/>
<line x1="36.30" y1="224.10" x2="36.30" y2="369.40" stroke="#1c1c1c" stroke-width="1.2"/>
<line x1="315.60" y1="223.50" x2="315.60" y2="370.00" stroke="#7e444c" stroke-width="1.25"/>
<line x1="33.40" y1="369.10" x2="36.30" y2="369.10" stroke="#1c1c1c" stroke-width="1"/>
<line x1="34.70" y1="357.02" x2="36.30" y2="357.02" stroke="#1c1c1c" stroke-width="1"/>
<line x1="33.40" y1="344.93" x2="36.30" y2="344.93" stroke="#1c1c1c" stroke-width="1"/>
<line x1="34.70" y1="332.85" x2="36.30" y2="332.85" stroke="#1c1c1c" stroke-width="1"/>
<line x1="33.40" y1="320.77" x2="36.30" y2="320.77" stroke="#1c1c1c" stroke-width="1"/>
<line x1="34.70" y1="308.68" x2="36.30" y2="308.68" stroke="#1c1c1c" stroke-width="1"/>
<line x1="33.40" y1="296.60" x2="36.30" y2="296.60" stroke="#1c1c1c" stroke-width="1"/>
<line x1="34.70" y1="284.52" x2="36.30" y2="284.52" stroke="#1c1c1c" stroke-width="1"/>
<line x1="33.40" y1="272.43" x2="36.30" y2="272.43" stroke="#1c1c1c" stroke-width="1"/>
<line x1="34.70" y1="260.35" x2="36.30" y2="260.35" stroke="#1c1c1c" stroke-width="1"/>
<line x1="33.40" y1="248.27" x2="36.30" y2="248.27" stroke="#1c1c1c" stroke-width="1"/>
<line x1="34.70" y1="236.18" x2="36.30" y2="236.18" stroke="#1c1c1c" stroke-width="1"/>
<line x1="33.40" y1="224.10" x2="36.30" y2="224.10" stroke="#1c1c1c" stroke-width="1"/>
<text x="31.50" y="372.10" font-size="8.6" font-weight="bold" text-anchor="end" fill="#111">0</text>
<text x="31.50" y="347.93" font-size="8.6" font-weight="bold" text-anchor="end" fill="#111">5</text>
<text x="31.50" y="323.77" font-size="8.6" font-weight="bold" text-anchor="end" fill="#111">10</text>
<text x="31.50" y="299.60" font-size="8.6" font-weight="bold" text-anchor="end" fill="#111">15</text>
<text x="31.50" y="275.43" font-size="8.6" font-weight="bold" text-anchor="end" fill="#111">20</text>
<text x="31.50" y="251.27" font-size="8.6" font-weight="bold" text-anchor="end" fill="#111">25</text>
<text x="31.50" y="227.10" font-size="8.6" font-weight="bold" text-anchor="end" fill="#111">30</text>
<line x1="315.60" y1="369.10" x2="318.60" y2="369.10" stroke="#7e444c" stroke-width="1"/>
<line x1="315.60" y1="344.93" x2="317.40" y2="344.93" stroke="#7e444c" stroke-width="1"/>
<line x1="315.60" y1="320.77" x2="318.60" y2="320.77" stroke="#7e444c" stroke-width="1"/>
<line x1="315.60" y1="296.60" x2="317.40" y2="296.60" stroke="#7e444c" stroke-width="1"/>
<line x1="315.60" y1="272.43" x2="318.60" y2="272.43" stroke="#7e444c" stroke-width="1"/>
<line x1="315.60" y1="248.27" x2="317.40" y2="248.27" stroke="#7e444c" stroke-width="1"/>
<line x1="315.60" y1="224.10" x2="318.60" y2="224.10" stroke="#7e444c" stroke-width="1"/>
<text x="320.00" y="372.00" font-size="8.4" stroke="#7e444c" stroke-width="0.3" text-anchor="start" fill="#7e444c">-3</text>
<text x="320.00" y="323.67" font-size="8.4" stroke="#7e444c" stroke-width="0.3" text-anchor="start" fill="#7e444c">0</text>
<text x="320.00" y="275.33" font-size="8.4" stroke="#7e444c" stroke-width="0.3" text-anchor="start" fill="#7e444c">3</text>
<text x="320.00" y="227.00" font-size="8.4" stroke="#7e444c" stroke-width="0.3" text-anchor="start" fill="#7e444c">6</text>
<line x1="47.30" y1="369.40" x2="47.30" y2="372.00" stroke="#1c1c1c" stroke-width="1"/>
<text transform="translate(53.50 380.50) rotate(-22)" font-size="9.2" font-weight="bold" text-anchor="end" fill="#111">Morning</text>
<line x1="71.00" y1="369.40" x2="71.00" y2="372.00" stroke="#1c1c1c" stroke-width="1"/>
<text transform="translate(77.20 380.50) rotate(-22)" font-size="9.2" font-weight="bold" text-anchor="end" fill="#111">Noon</text>
<line x1="94.30" y1="369.40" x2="94.30" y2="372.00" stroke="#1c1c1c" stroke-width="1"/>
<text transform="translate(100.50 380.50) rotate(-22)" font-size="9.2" font-weight="bold" text-anchor="end" fill="#111">Night</text>
<line x1="117.20" y1="369.40" x2="117.20" y2="372.00" stroke="#1c1c1c" stroke-width="1"/>
<text transform="translate(123.40 380.50) rotate(-22)" font-size="9.2" font-weight="bold" text-anchor="end" fill="#111">Morning</text>
<line x1="140.90" y1="369.40" x2="140.90" y2="372.00" stroke="#1c1c1c" stroke-width="1"/>
<text transform="translate(147.10 380.50) rotate(-22)" font-size="9.2" font-weight="bold" text-anchor="end" fill="#111">Noon</text>
<line x1="164.20" y1="369.40" x2="164.20" y2="372.00" stroke="#1c1c1c" stroke-width="1"/>
<text transform="translate(170.40 380.50) rotate(-22)" font-size="9.2" font-weight="bold" text-anchor="end" fill="#111">Night</text>
<line x1="187.10" y1="369.40" x2="187.10" y2="372.00" stroke="#1c1c1c" stroke-width="1"/>
<text transform="translate(193.30 380.50) rotate(-22)" font-size="9.2" font-weight="bold" text-anchor="end" fill="#111">Morning</text>
<line x1="210.80" y1="369.40" x2="210.80" y2="372.00" stroke="#1c1c1c" stroke-width="1"/>
<text transform="translate(217.00 380.50) rotate(-22)" font-size="9.2" font-weight="bold" text-anchor="end" fill="#111">Noon</text>
<line x1="234.10" y1="369.40" x2="234.10" y2="372.00" stroke="#1c1c1c" stroke-width="1"/>
<text transform="translate(240.30 380.50) rotate(-22)" font-size="9.2" font-weight="bold" text-anchor="end" fill="#111">Night</text>
<line x1="257.00" y1="369.40" x2="257.00" y2="372.00" stroke="#1c1c1c" stroke-width="1"/>
<text transform="translate(263.20 380.50) rotate(-22)" font-size="9.2" font-weight="bold" text-anchor="end" fill="#111">Morning</text>
<line x1="280.70" y1="369.40" x2="280.70" y2="372.00" stroke="#1c1c1c" stroke-width="1"/>
<text transform="translate(286.90 380.50) rotate(-22)" font-size="9.2" font-weight="bold" text-anchor="end" fill="#111">Noon</text>
<line x1="304.00" y1="369.40" x2="304.00" y2="372.00" stroke="#1c1c1c" stroke-width="1"/>
<text transform="translate(310.20 380.50) rotate(-22)" font-size="9.2" font-weight="bold" text-anchor="end" fill="#111">Night</text>
<text transform="translate(17.01 296.60) rotate(-90)" font-size="8.90" font-weight="bold" text-anchor="middle" fill="#111">Summer Concentration (ppbv)</text>
<text transform="translate(336.98 294.60) rotate(-90)" font-size="9.55" stroke="#7e444c" stroke-width="0.25" text-anchor="middle" fill="#7e444c">PL-Aromatics Concentration (ppbv)</text>
<rect x="42.40" y="211.90" width="17.2" height="8.4" fill="#94bbee"/>
<text x="62.70" y="219.00" font-size="10.1" font-weight="bold" fill="#111">Ob-Aromatics</text>
<rect x="138.20" y="211.90" width="17.2" height="8.4" fill="#ea6c77"/>
<text x="158.40" y="219.00" font-size="10.1" font-weight="bold" fill="#111">In-Aromatics</text>
<line x1="228.60" y1="216.40" x2="247.30" y2="216.40" stroke="#7b3a42" stroke-width="1.1"/>
<polygon points="238.10,212.90 238.98,215.09 241.33,215.25 239.53,216.76 240.10,219.05 238.10,217.80 236.10,219.05 236.67,216.76 234.87,215.25 237.22,215.09" fill="#7b3a42"/>
<text x="250.20" y="219.00" font-size="10.1" font-weight="bold" fill="#111">PL-Aromatics</text>
<text x="2.2" y="226.70" font-size="16.5" font-weight="bold" fill="#000">(b)</text>
<rect x="378.70" y="332.20" width="8.40" height="36.90" fill="#94bbee" stroke="#7f9cc4" stroke-width="0.4"/>
<rect x="387.10" y="332.20" width="8.40" height="36.90" fill="#ea6c77" stroke="#b85862" stroke-width="0.4"/>
<rect x="399.65" y="362.00" width="8.40" height="7.10" fill="#94bbee" stroke="#7f9cc4" stroke-width="0.4"/>
<rect x="408.05" y="361.00" width="8.40" height="8.10" fill="#ea6c77" stroke="#b85862" stroke-width="0.4"/>
<rect x="420.60" y="350.00" width="8.40" height="19.10" fill="#94bbee" stroke="#7f9cc4" stroke-width="0.4"/>
<rect x="429.00" y="349.60" width="8.40" height="19.50" fill="#ea6c77" stroke="#b85862" stroke-width="0.4"/>
<rect x="448.78" y="313.00" width="8.40" height="56.10" fill="#94bbee" stroke="#7f9cc4" stroke-width="0.4"/>
<rect x="457.18" y="313.00" width="8.40" height="56.10" fill="#ea6c77" stroke="#b85862" stroke-width="0.4"/>
<rect x="469.73" y="309.00" width="8.40" height="60.10" fill="#94bbee" stroke="#7f9cc4" stroke-width="0.4"/>
<rect x="478.12" y="300.70" width="8.40" height="68.40" fill="#ea6c77" stroke="#b85862" stroke-width="0.4"/>
<rect x="490.68" y="266.10" width="8.40" height="103.00" fill="#94bbee" stroke="#7f9cc4" stroke-width="0.4"/>
<rect x="499.07" y="262.90" width="8.40" height="106.20" fill="#ea6c77" stroke="#b85862" stroke-width="0.4"/>
<rect x="518.85" y="335.10" width="8.40" height="34.00" fill="#94bbee" stroke="#7f9cc4" stroke-width="0.4"/>
<rect x="527.25" y="335.10" width="8.40" height="34.00" fill="#ea6c77" stroke="#b85862" stroke-width="0.4"/>
<rect x="539.80" y="355.90" width="8.40" height="13.20" fill="#94bbee" stroke="#7f9cc4" stroke-width="0.4"/>
<rect x="548.20" y="353.90" width="8.40" height="15.20" fill="#ea6c77" stroke="#b85862" stroke-width="0.4"/>
<rect x="560.75" y="348.20" width="8.40" height="20.90" fill="#94bbee" stroke="#7f9cc4" stroke-width="0.4"/>
<rect x="569.15" y="347.20" width="8.40" height="21.90" fill="#ea6c77" stroke="#b85862" stroke-width="0.4"/>
<rect x="588.92" y="355.50" width="8.40" height="13.60" fill="#94bbee" stroke="#7f9cc4" stroke-width="0.4"/>
<rect x="597.32" y="355.10" width="8.40" height="14.00" fill="#ea6c77" stroke="#b85862" stroke-width="0.4"/>
<rect x="609.87" y="342.00" width="8.40" height="27.10" fill="#94bbee" stroke="#7f9cc4" stroke-width="0.4"/>
<rect x="618.27" y="336.10" width="8.40" height="33.00" fill="#ea6c77" stroke="#b85862" stroke-width="0.4"/>
<rect x="630.82" y="318.50" width="8.40" height="50.60" fill="#94bbee" stroke="#7f9cc4" stroke-width="0.4"/>
<rect x="639.22" y="316.90" width="8.40" height="52.20" fill="#ea6c77" stroke="#b85862" stroke-width="0.4"/>
<path d="M382.90 309.70V332.20M381.30 309.70H384.50" stroke="#cfcfcf" stroke-width="0.8" fill="none"/>
<path d="M382.90 332.20V354.70M381.30 354.70H384.50" stroke="#3a3a3a" stroke-opacity="0.33" stroke-width="0.8" fill="none"/>
<path d="M391.30 309.20V332.20M389.70 309.20H392.90" stroke="#cfcfcf" stroke-width="0.8" fill="none"/>
<path d="M391.30 332.20V355.20M389.70 355.20H392.90" stroke="#3a3a3a" stroke-opacity="0.33" stroke-width="0.8" fill="none"/>
<path d="M403.85 360.00V362.00M402.25 360.00H405.45" stroke="#cfcfcf" stroke-width="0.8" fill="none"/>
<path d="M403.85 362.00V364.00M402.25 364.00H405.45" stroke="#3a3a3a" stroke-opacity="0.33" stroke-width="0.8" fill="none"/>
<path d="M412.25 359.50V361.00M410.65 359.50H413.85" stroke="#cfcfcf" stroke-width="0.8" fill="none"/>
<path d="M412.25 361.00V362.50M410.65 362.50H413.85" stroke="#3a3a3a" stroke-opacity="0.33" stroke-width="0.8" fill="none"/>
<path d="M424.80 343.00V350.00M423.20 343.00H426.40" stroke="#cfcfcf" stroke-width="0.8" fill="none"/>
<path d="M424.80 350.00V357.00M423.20 357.00H426.40" stroke="#3a3a3a" stroke-opacity="0.33" stroke-width="0.8" fill="none"/>
<path d="M433.20 342.00V349.60M431.60 342.00H434.80" stroke="#cfcfcf" stroke-width="0.8" fill="none"/>
<path d="M433.20 349.60V357.20M431.60 357.20H434.80" stroke="#3a3a3a" stroke-opacity="0.33" stroke-width="0.8" fill="none"/>
<path d="M461.38 300.00V313.00M459.77 300.00H462.98" stroke="#cfcfcf" stroke-width="0.8" fill="none"/>
<path d="M461.38 313.00V326.00M459.77 326.00H462.98" stroke="#3a3a3a" stroke-opacity="0.33" stroke-width="0.8" fill="none"/>
<path d="M473.93 300.20V309.00M472.32 300.20H475.53" stroke="#cfcfcf" stroke-width="0.8" fill="none"/>
<path d="M473.93 309.00V317.80M472.32 317.80H475.53" stroke="#3a3a3a" stroke-opacity="0.33" stroke-width="0.8" fill="none"/>
<path d="M482.32 291.70V300.70M480.72 291.70H483.93" stroke="#cfcfcf" stroke-width="0.8" fill="none"/>
<path d="M482.32 300.70V309.70M480.72 309.70H483.93" stroke="#3a3a3a" stroke-opacity="0.33" stroke-width="0.8" fill="none"/>
<path d="M494.88 242.60V266.10M493.27 242.60H496.48" stroke="#cfcfcf" stroke-width="0.8" fill="none"/>
<path d="M494.88 266.10V289.60M493.27 289.60H496.48" stroke="#3a3a3a" stroke-opacity="0.33" stroke-width="0.8" fill="none"/>
<path d="M503.27 237.30V262.90M501.67 237.30H504.88" stroke="#cfcfcf" stroke-width="0.8" fill="none"/>
<path d="M503.27 262.90V288.50M501.67 288.50H504.88" stroke="#3a3a3a" stroke-opacity="0.33" stroke-width="0.8" fill="none"/>
<path d="M523.05 319.60V335.10M521.45 319.60H524.65" stroke="#cfcfcf" stroke-width="0.8" fill="none"/>
<path d="M523.05 335.10V350.60M521.45 350.60H524.65" stroke="#3a3a3a" stroke-opacity="0.33" stroke-width="0.8" fill="none"/>
<path d="M531.45 319.60V335.10M529.85 319.60H533.05" stroke="#cfcfcf" stroke-width="0.8" fill="none"/>
<path d="M531.45 335.10V350.60M529.85 350.60H533.05" stroke="#3a3a3a" stroke-opacity="0.33" stroke-width="0.8" fill="none"/>
<path d="M544.00 347.60V355.90M542.40 347.60H545.60" stroke="#cfcfcf" stroke-width="0.8" fill="none"/>
<path d="M544.00 355.90V364.20M542.40 364.20H545.60" stroke="#3a3a3a" stroke-opacity="0.33" stroke-width="0.8" fill="none"/>
<path d="M552.40 345.90V353.90M550.80 345.90H554.00" stroke="#cfcfcf" stroke-width="0.8" fill="none"/>
<path d="M552.40 353.90V361.90M550.80 361.90H554.00" stroke="#3a3a3a" stroke-opacity="0.33" stroke-width="0.8" fill="none"/>
<path d="M564.95 339.00V348.20M563.35 339.00H566.55" stroke="#cfcfcf" stroke-width="0.8" fill="none"/>
<path d="M564.95 348.20V357.40M563.35 357.40H566.55" stroke="#3a3a3a" stroke-opacity="0.33" stroke-width="0.8" fill="none"/>
<path d="M573.35 337.60V347.20M571.75 337.60H574.95" stroke="#cfcfcf" stroke-width="0.8" fill="none"/>
<path d="M573.35 347.20V356.80M571.75 356.80H574.95" stroke="#3a3a3a" stroke-opacity="0.33" stroke-width="0.8" fill="none"/>
<path d="M593.12 349.20V355.50M591.52 349.20H594.72" stroke="#cfcfcf" stroke-width="0.8" fill="none"/>
<path d="M593.12 355.50V361.80M591.52 361.80H594.72" stroke="#3a3a3a" stroke-opacity="0.33" stroke-width="0.8" fill="none"/>
<path d="M601.52 349.10V355.10M599.92 349.10H603.12" stroke="#cfcfcf" stroke-width="0.8" fill="none"/>
<path d="M601.52 355.10V361.10M599.92 361.10H603.12" stroke="#3a3a3a" stroke-opacity="0.33" stroke-width="0.8" fill="none"/>
<path d="M614.07 329.20V342.00M612.47 329.20H615.67" stroke="#cfcfcf" stroke-width="0.8" fill="none"/>
<path d="M614.07 342.00V354.80M612.47 354.80H615.67" stroke="#3a3a3a" stroke-opacity="0.33" stroke-width="0.8" fill="none"/>
<path d="M622.47 321.10V336.10M620.87 321.10H624.07" stroke="#cfcfcf" stroke-width="0.8" fill="none"/>
<path d="M622.47 336.10V351.10M620.87 351.10H624.07" stroke="#3a3a3a" stroke-opacity="0.33" stroke-width="0.8" fill="none"/>
<path d="M635.02 277.50V318.50M633.42 277.50H636.62" stroke="#cfcfcf" stroke-width="0.8" fill="none"/>
<path d="M635.02 318.50V359.50M633.42 359.50H636.62" stroke="#3a3a3a" stroke-opacity="0.33" stroke-width="0.8" fill="none"/>
<path d="M643.42 274.40V316.90M641.82 274.40H645.02" stroke="#cfcfcf" stroke-width="0.8" fill="none"/>
<path d="M643.42 316.90V359.40M641.82 359.40H645.02" stroke="#3a3a3a" stroke-opacity="0.33" stroke-width="0.8" fill="none"/>
<line x1="443.07" y1="224.10" x2="443.07" y2="369.10" stroke="#8e8e8e" stroke-width="1.3" stroke-dasharray="5 5"/>
<line x1="513.15" y1="224.10" x2="513.15" y2="369.10" stroke="#8e8e8e" stroke-width="1.3" stroke-dasharray="5 5"/>
<line x1="583.22" y1="224.10" x2="583.22" y2="369.10" stroke="#8e8e8e" stroke-width="1.3" stroke-dasharray="5 5"/>
<polyline points="387.10,316.80 408.05,313.40 429.00,313.40" fill="none" stroke="#7b3a42" stroke-width="1.2"/>
<polygon points="387.10,313.40 387.98,315.59 390.33,315.75 388.53,317.26 389.10,319.55 387.10,318.30 385.10,319.55 385.67,317.26 383.87,315.75 386.22,315.59" fill="#7b3a42"/>
<polygon points="408.05,310.00 408.93,312.19 411.28,312.35 409.48,313.86 410.05,316.15 408.05,314.90 406.05,316.15 406.62,313.86 404.82,312.35 407.17,312.19" fill="#7b3a42"/>
<polygon points="429.00,310.00 429.88,312.19 432.23,312.35 430.43,313.86 431.00,316.15 429.00,314.90 427.00,316.15 427.57,313.86 425.77,312.35 428.12,312.19" fill="#7b3a42"/>
<polyline points="457.18,320.80 478.12,240.40 499.07,283.80" fill="none" stroke="#7b3a42" stroke-width="1.2"/>
<polygon points="457.18,317.40 458.06,319.59 460.41,319.75 458.60,321.26 459.17,323.55 457.18,322.30 455.18,323.55 455.75,321.26 453.94,319.75 456.29,319.59" fill="#7b3a42"/>
<polygon points="478.12,237.00 479.01,239.19 481.36,239.35 479.55,240.86 480.12,243.15 478.12,241.90 476.13,243.15 476.70,240.86 474.89,239.35 477.24,239.19" fill="#7b3a42"/>
<polygon points="499.07,280.40 499.96,282.59 502.31,282.75 500.50,284.26 501.07,286.55 499.07,285.30 497.08,286.55 497.65,284.26 495.84,282.75 498.19,282.59" fill="#7b3a42"/>
<polyline points="527.25,320.40 548.20,298.20 569.15,310.70" fill="none" stroke="#7b3a42" stroke-width="1.2"/>
<polygon points="527.25,317.00 528.13,319.19 530.48,319.35 528.68,320.86 529.25,323.15 527.25,321.90 525.25,323.15 525.82,320.86 524.02,319.35 526.37,319.19" fill="#7b3a42"/>
<polygon points="548.20,294.80 549.08,296.99 551.43,297.15 549.63,298.66 550.20,300.95 548.20,299.70 546.20,300.95 546.77,298.66 544.97,297.15 547.32,296.99" fill="#7b3a42"/>
<polygon points="569.15,307.30 570.03,309.49 572.38,309.65 570.58,311.16 571.15,313.45 569.15,312.20 567.15,313.45 567.72,311.16 565.92,309.65 568.27,309.49" fill="#7b3a42"/>
<polyline points="597.32,319.30 618.27,257.90 639.22,306.10" fill="none" stroke="#7b3a42" stroke-width="1.2"/>
<polygon points="597.32,315.90 598.21,318.09 600.56,318.25 598.75,319.76 599.32,322.05 597.32,320.80 595.33,322.05 595.90,319.76 594.09,318.25 596.44,318.09" fill="#7b3a42"/>
<polygon points="618.27,254.50 619.16,256.69 621.51,256.85 619.70,258.36 620.27,260.65 618.27,259.40 616.28,260.65 616.85,258.36 615.04,256.85 617.39,256.69" fill="#7b3a42"/>
<polygon points="639.22,302.70 640.11,304.89 642.46,305.05 640.65,306.56 641.22,308.85 639.22,307.60 637.23,308.85 637.80,306.56 635.99,305.05 638.34,304.89" fill="#7b3a42"/>
<text x="408.00" y="237.00" font-size="8.6" font-weight="bold" text-anchor="middle" fill="#111">GZ</text>
<text x="478.07" y="237.00" font-size="8.6" font-weight="bold" text-anchor="middle" fill="#111">DG</text>
<text x="548.15" y="237.00" font-size="8.6" font-weight="bold" text-anchor="middle" fill="#111">SZ</text>
<text x="618.22" y="237.00" font-size="8.6" font-weight="bold" text-anchor="middle" fill="#111">HZ</text>
<line x1="372.70" y1="224.10" x2="653.30" y2="224.10" stroke="#1c1c1c" stroke-width="1.25"/>
<line x1="372.70" y1="369.40" x2="653.30" y2="369.40" stroke="#1c1c1c" stroke-width="1.2"/>
<line x1="373.30" y1="224.10" x2="373.30" y2="369.40" stroke="#1c1c1c" stroke-width="1.2"/>
<line x1="653.30" y1="223.50" x2="653.30" y2="370.00" stroke="#7e444c" stroke-width="1.25"/>
<line x1="370.40" y1="369.10" x2="373.30" y2="369.10" stroke="#1c1c1c" stroke-width="1"/>
<line x1="371.70" y1="357.02" x2="373.30" y2="357.02" stroke="#1c1c1c" stroke-width="1"/>
<line x1="370.40" y1="344.93" x2="373.30" y2="344.93" stroke="#1c1c1c" stroke-width="1"/>
<line x1="371.70" y1="332.85" x2="373.30" y2="332.85" stroke="#1c1c1c" stroke-width="1"/>
<line x1="370.40" y1="320.77" x2="373.30" y2="320.77" stroke="#1c1c1c" stroke-width="1"/>
<line x1="371.70" y1="308.68" x2="373.30" y2="308.68" stroke="#1c1c1c" stroke-width="1"/>
<line x1="370.40" y1="296.60" x2="373.30" y2="296.60" stroke="#1c1c1c" stroke-width="1"/>
<line x1="371.70" y1="284.52" x2="373.30" y2="284.52" stroke="#1c1c1c" stroke-width="1"/>
<line x1="370.40" y1="272.43" x2="373.30" y2="272.43" stroke="#1c1c1c" stroke-width="1"/>
<line x1="371.70" y1="260.35" x2="373.30" y2="260.35" stroke="#1c1c1c" stroke-width="1"/>
<line x1="370.40" y1="248.27" x2="373.30" y2="248.27" stroke="#1c1c1c" stroke-width="1"/>
<line x1="371.70" y1="236.18" x2="373.30" y2="236.18" stroke="#1c1c1c" stroke-width="1"/>
<line x1="370.40" y1="224.10" x2="373.30" y2="224.10" stroke="#1c1c1c" stroke-width="1"/>
<text x="368.50" y="372.10" font-size="8.6" font-weight="bold" text-anchor="end" fill="#111">0</text>
<text x="368.50" y="347.93" font-size="8.6" font-weight="bold" text-anchor="end" fill="#111">5</text>
<text x="368.50" y="323.77" font-size="8.6" font-weight="bold" text-anchor="end" fill="#111">10</text>
<text x="368.50" y="299.60" font-size="8.6" font-weight="bold" text-anchor="end" fill="#111">15</text>
<text x="368.50" y="275.43" font-size="8.6" font-weight="bold" text-anchor="end" fill="#111">20</text>
<text x="368.50" y="251.27" font-size="8.6" font-weight="bold" text-anchor="end" fill="#111">25</text>
<text x="368.50" y="227.10" font-size="8.6" font-weight="bold" text-anchor="end" fill="#111">30</text>
<line x1="653.30" y1="369.10" x2="656.30" y2="369.10" stroke="#7e444c" stroke-width="1"/>
<line x1="653.30" y1="357.02" x2="655.10" y2="357.02" stroke="#7e444c" stroke-width="1"/>
<line x1="653.30" y1="344.93" x2="656.30" y2="344.93" stroke="#7e444c" stroke-width="1"/>
<line x1="653.30" y1="332.85" x2="655.10" y2="332.85" stroke="#7e444c" stroke-width="1"/>
<line x1="653.30" y1="320.77" x2="656.30" y2="320.77" stroke="#7e444c" stroke-width="1"/>
<line x1="653.30" y1="308.68" x2="655.10" y2="308.68" stroke="#7e444c" stroke-width="1"/>
<line x1="653.30" y1="296.60" x2="656.30" y2="296.60" stroke="#7e444c" stroke-width="1"/>
<line x1="653.30" y1="284.52" x2="655.10" y2="284.52" stroke="#7e444c" stroke-width="1"/>
<line x1="653.30" y1="272.43" x2="656.30" y2="272.43" stroke="#7e444c" stroke-width="1"/>
<line x1="653.30" y1="260.35" x2="655.10" y2="260.35" stroke="#7e444c" stroke-width="1"/>
<line x1="653.30" y1="248.27" x2="656.30" y2="248.27" stroke="#7e444c" stroke-width="1"/>
<line x1="653.30" y1="236.18" x2="655.10" y2="236.18" stroke="#7e444c" stroke-width="1"/>
<line x1="653.30" y1="224.10" x2="656.30" y2="224.10" stroke="#7e444c" stroke-width="1"/>
<text x="657.70" y="372.00" font-size="8.4" font-weight="bold" text-anchor="start" fill="#7e444c">-1.0</text>
<text x="657.70" y="347.83" font-size="8.4" font-weight="bold" text-anchor="start" fill="#7e444c">-0.5</text>
<text x="657.70" y="323.67" font-size="8.4" font-weight="bold" text-anchor="start" fill="#7e444c">0.0</text>
<text x="657.70" y="299.50" font-size="8.4" font-weight="bold" text-anchor="start" fill="#7e444c">0.5</text>
<text x="657.70" y="275.33" font-size="8.4" font-weight="bold" text-anchor="start" fill="#7e444c">1.0</text>
<text x="657.70" y="251.17" font-size="8.4" font-weight="bold" text-anchor="start" fill="#7e444c">1.5</text>
<text x="657.70" y="227.00" font-size="8.4" font-weight="bold" text-anchor="start" fill="#7e444c">2.0</text>
<line x1="384.30" y1="369.40" x2="384.30" y2="372.00" stroke="#1c1c1c" stroke-width="1"/>
<text transform="translate(390.90 381.30) rotate(-22)" font-size="9.2" font-weight="bold" text-anchor="end" fill="#111">Morning</text>
<line x1="408.00" y1="369.40" x2="408.00" y2="372.00" stroke="#1c1c1c" stroke-width="1"/>
<text transform="translate(414.60 381.30) rotate(-22)" font-size="9.2" font-weight="bold" text-anchor="end" fill="#111">Noon</text>
<line x1="431.30" y1="369.40" x2="431.30" y2="372.00" stroke="#1c1c1c" stroke-width="1"/>
<text transform="translate(437.90 381.30) rotate(-22)" font-size="9.2" font-weight="bold" text-anchor="end" fill="#111">Night</text>
<line x1="454.38" y1="369.40" x2="454.38" y2="372.00" stroke="#1c1c1c" stroke-width="1"/>
<text transform="translate(460.98 381.30) rotate(-22)" font-size="9.2" font-weight="bold" text-anchor="end" fill="#111">Morning</text>
<line x1="478.07" y1="369.40" x2="478.07" y2="372.00" stroke="#1c1c1c" stroke-width="1"/>
<text transform="translate(484.68 381.30) rotate(-22)" font-size="9.2" font-weight="bold" text-anchor="end" fill="#111">Noon</text>
<line x1="501.38" y1="369.40" x2="501.38" y2="372.00" stroke="#1c1c1c" stroke-width="1"/>
<text transform="translate(507.98 381.30) rotate(-22)" font-size="9.2" font-weight="bold" text-anchor="end" fill="#111">Night</text>
<line x1="524.45" y1="369.40" x2="524.45" y2="372.00" stroke="#1c1c1c" stroke-width="1"/>
<text transform="translate(531.05 381.30) rotate(-22)" font-size="9.2" font-weight="bold" text-anchor="end" fill="#111">Morning</text>
<line x1="548.15" y1="369.40" x2="548.15" y2="372.00" stroke="#1c1c1c" stroke-width="1"/>
<text transform="translate(554.75 381.30) rotate(-22)" font-size="9.2" font-weight="bold" text-anchor="end" fill="#111">Noon</text>
<line x1="571.45" y1="369.40" x2="571.45" y2="372.00" stroke="#1c1c1c" stroke-width="1"/>
<text transform="translate(578.05 381.30) rotate(-22)" font-size="9.2" font-weight="bold" text-anchor="end" fill="#111">Night</text>
<line x1="594.52" y1="369.40" x2="594.52" y2="372.00" stroke="#1c1c1c" stroke-width="1"/>
<text transform="translate(601.12 381.30) rotate(-22)" font-size="9.2" font-weight="bold" text-anchor="end" fill="#111">Morning</text>
<line x1="618.22" y1="369.40" x2="618.22" y2="372.00" stroke="#1c1c1c" stroke-width="1"/>
<text transform="translate(624.82 381.30) rotate(-22)" font-size="9.2" font-weight="bold" text-anchor="end" fill="#111">Noon</text>
<line x1="641.52" y1="369.40" x2="641.52" y2="372.00" stroke="#1c1c1c" stroke-width="1"/>
<text transform="translate(648.12 381.30) rotate(-22)" font-size="9.2" font-weight="bold" text-anchor="end" fill="#111">Night</text>
<text transform="translate(353.68 296.60) rotate(-90)" font-size="9.55" font-weight="bold" text-anchor="middle" fill="#111">Winter Concentration (ppbv)</text>
<text transform="translate(680.31 295.50) rotate(-90)" font-size="8.90" font-weight="bold" text-anchor="middle" fill="#7e444c">PL-Aromatics Concentration (ppbv)</text>
<rect x="379.80" y="211.90" width="17.2" height="8.4" fill="#94bbee"/>
<text x="400.10" y="219.00" font-size="10.1" font-weight="bold" fill="#111">Ob-Aromatics</text>
<rect x="476.30" y="211.90" width="17.2" height="8.4" fill="#ea6c77"/>
<text x="496.50" y="219.00" font-size="10.1" font-weight="bold" fill="#111">In-Aromatics</text>
<line x1="566.20" y1="216.40" x2="584.90" y2="216.40" stroke="#7b3a42" stroke-width="1.1"/>
<polygon points="575.70,212.90 576.58,215.09 578.93,215.25 577.13,216.76 577.70,219.05 575.70,217.80 573.70,219.05 574.27,216.76 572.47,215.25 574.82,215.09" fill="#7b3a42"/>
<text x="587.80" y="219.00" font-size="10.1" font-weight="bold" fill="#111">PL-Aromatics</text>
<rect x="41.70" y="509.80" width="8.40" height="46.20" fill="#94bbee" stroke="#7f9cc4" stroke-width="0.4"/>
<rect x="50.10" y="509.80" width="8.40" height="46.20" fill="#ea6c77" stroke="#b85862" stroke-width="0.4"/>
<rect x="62.65" y="496.00" width="8.40" height="60.00" fill="#94bbee" stroke="#7f9cc4" stroke-width="0.4"/>
<rect x="71.05" y="479.20" width="8.40" height="76.80" fill="#ea6c77" stroke="#b85862" stroke-width="0.4"/>
<rect x="83.60" y="534.60" width="8.40" height="21.40" fill="#94bbee" stroke="#7f9cc4" stroke-width="0.4"/>
<rect x="92.00" y="531.00" width="8.40" height="25.00" fill="#ea6c77" stroke="#b85862" stroke-width="0.4"/>
<rect x="111.52" y="519.70" width="8.40" height="36.30" fill="#94bbee" stroke="#7f9cc4" stroke-width="0.4"/>
<rect x="119.92" y="519.10" width="8.40" height="36.90" fill="#ea6c77" stroke="#b85862" stroke-width="0.4"/>
<rect x="132.47" y="477.60" width="8.40" height="78.40" fill="#94bbee" stroke="#7f9cc4" stroke-width="0.4"/>
<rect x="140.88" y="462.00" width="8.40" height="94.00" fill="#ea6c77" stroke="#b85862" stroke-width="0.4"/>
<rect x="153.42" y="484.10" width="8.40" height="71.90" fill="#94bbee" stroke="#7f9cc4" stroke-width="0.4"/>
<rect x="161.82" y="481.80" width="8.40" height="74.20" fill="#ea6c77" stroke="#b85862" stroke-width="0.4"/>
<rect x="181.35" y="543.10" width="8.40" height="12.90" fill="#94bbee" stroke="#7f9cc4" stroke-width="0.4"/>
<rect x="189.75" y="543.10" width="8.40" height="12.90" fill="#ea6c77" stroke="#b85862" stroke-width="0.4"/>
<rect x="202.30" y="516.20" width="8.40" height="39.80" fill="#94bbee" stroke="#7f9cc4" stroke-width="0.4"/>
<rect x="210.70" y="501.90" width="8.40" height="54.10" fill="#ea6c77" stroke="#b85862" stroke-width="0.4"/>
<rect x="223.25" y="531.20" width="8.40" height="24.80" fill="#94bbee" stroke="#7f9cc4" stroke-width="0.4"/>
<rect x="231.65" y="529.60" width="8.40" height="26.40" fill="#ea6c77" stroke="#b85862" stroke-width="0.4"/>
<rect x="251.18" y="524.30" width="8.40" height="31.70" fill="#94bbee" stroke="#7f9cc4" stroke-width="0.4"/>
<rect x="259.58" y="524.30" width="8.40" height="31.70" fill="#ea6c77" stroke="#b85862" stroke-width="0.4"/>
<rect x="272.13" y="474.20" width="8.40" height="81.80" fill="#94bbee" stroke="#7f9cc4" stroke-width="0.4"/>
<rect x="280.53" y="461.00" width="8.40" height="95.00" fill="#ea6c77" stroke="#b85862" stroke-width="0.4"/>
<rect x="293.08" y="491.10" width="8.40" height="64.90" fill="#94bbee" stroke="#7f9cc4" stroke-width="0.4"/>
<rect x="301.48" y="489.10" width="8.40" height="66.90" fill="#ea6c77" stroke="#b85862" stroke-width="0.4"/>
<path d="M45.90 503.30V509.80M44.30 503.30H47.50" stroke="#cfcfcf" stroke-width="0.8" fill="none"/>
<path d="M45.90 509.80V516.30M44.30 516.30H47.50" stroke="#3a3a3a" stroke-opacity="0.33" stroke-width="0.8" fill="none"/>
<path d="M54.30 503.30V509.80M52.70 503.30H55.90" stroke="#cfcfcf" stroke-width="0.8" fill="none"/>
<path d="M54.30 509.80V516.30M52.70 516.30H55.90" stroke="#3a3a3a" stroke-opacity="0.33" stroke-width="0.8" fill="none"/>
<path d="M66.85 487.10V496.00M65.25 487.10H68.45" stroke="#cfcfcf" stroke-width="0.8" fill="none"/>
<path d="M66.85 496.00V504.90M65.25 504.90H68.45" stroke="#3a3a3a" stroke-opacity="0.33" stroke-width="0.8" fill="none"/>
<path d="M75.25 468.20V479.20M73.65 468.20H76.85" stroke="#cfcfcf" stroke-width="0.8" fill="none"/>
<path d="M75.25 479.20V490.20M73.65 490.20H76.85" stroke="#3a3a3a" stroke-opacity="0.33" stroke-width="0.8" fill="none"/>
<path d="M87.80 516.80V534.60M86.20 516.80H89.40" stroke="#cfcfcf" stroke-width="0.8" fill="none"/>
<path d="M87.80 534.60V552.40M86.20 552.40H89.40" stroke="#3a3a3a" stroke-opacity="0.33" stroke-width="0.8" fill="none"/>
<path d="M115.72 503.90V519.70M114.12 503.90H117.32" stroke="#cfcfcf" stroke-width="0.8" fill="none"/>
<path d="M115.72 519.70V535.50M114.12 535.50H117.32" stroke="#3a3a3a" stroke-opacity="0.33" stroke-width="0.8" fill="none"/>
<path d="M124.12 502.30V519.10M122.53 502.30H125.72" stroke="#cfcfcf" stroke-width="0.8" fill="none"/>
<path d="M124.12 519.10V535.90M122.53 535.90H125.72" stroke="#3a3a3a" stroke-opacity="0.33" stroke-width="0.8" fill="none"/>
<path d="M136.68 474.10V477.60M135.08 474.10H138.28" stroke="#cfcfcf" stroke-width="0.8" fill="none"/>
<path d="M136.68 477.60V481.10M135.08 481.10H138.28" stroke="#3a3a3a" stroke-opacity="0.33" stroke-width="0.8" fill="none"/>
<path d="M145.07 457.50V462.00M143.47 457.50H146.67" stroke="#cfcfcf" stroke-width="0.8" fill="none"/>
<path d="M145.07 462.00V466.50M143.47 466.50H146.67" stroke="#3a3a3a" stroke-opacity="0.33" stroke-width="0.8" fill="none"/>
<path d="M157.62 474.10V484.10M156.03 474.10H159.22" stroke="#cfcfcf" stroke-width="0.8" fill="none"/>
<path d="M157.62 484.10V494.10M156.03 494.10H159.22" stroke="#3a3a3a" stroke-opacity="0.33" stroke-width="0.8" fill="none"/>
<path d="M166.02 474.20V481.80M164.42 474.20H167.62" stroke="#cfcfcf" stroke-width="0.8" fill="none"/>
<path d="M166.02 481.80V489.40M164.42 489.40H167.62" stroke="#3a3a3a" stroke-opacity="0.33" stroke-width="0.8" fill="none"/>
<path d="M185.55 536.30V543.10M183.95 536.30H187.15" stroke="#cfcfcf" stroke-width="0.8" fill="none"/>
<path d="M185.55 543.10V549.90M183.95 549.90H187.15" stroke="#3a3a3a" stroke-opacity="0.33" stroke-width="0.8" fill="none"/>
<path d="M193.95 536.30V543.10M192.35 536.30H195.55" stroke="#cfcfcf" stroke-width="0.8" fill="none"/>
<path d="M193.95 543.10V549.90M192.35 549.90H195.55" stroke="#3a3a3a" stroke-opacity="0.33" stroke-width="0.8" fill="none"/>
<path d="M206.50 511.20V516.20M204.90 511.20H208.10" stroke="#cfcfcf" stroke-width="0.8" fill="none"/>
<path d="M206.50 516.20V521.20M204.90 521.20H208.10" stroke="#3a3a3a" stroke-opacity="0.33" stroke-width="0.8" fill="none"/>
<path d="M214.90 496.10V501.90M213.30 496.10H216.50" stroke="#cfcfcf" stroke-width="0.8" fill="none"/>
<path d="M214.90 501.90V507.70M213.30 507.70H216.50" stroke="#3a3a3a" stroke-opacity="0.33" stroke-width="0.8" fill="none"/>
<path d="M227.45 514.40V531.20M225.85 514.40H229.05" stroke="#cfcfcf" stroke-width="0.8" fill="none"/>
<path d="M227.45 531.20V548.00M225.85 548.00H229.05" stroke="#3a3a3a" stroke-opacity="0.33" stroke-width="0.8" fill="none"/>
<path d="M235.85 512.00V529.60M234.25 512.00H237.45" stroke="#cfcfcf" stroke-width="0.8" fill="none"/>
<path d="M235.85 529.60V547.20M234.25 547.20H237.45" stroke="#3a3a3a" stroke-opacity="0.33" stroke-width="0.8" fill="none"/>
<path d="M255.38 488.30V524.30M253.78 488.30H256.98" stroke="#cfcfcf" stroke-width="0.8" fill="none"/>
<path d="M255.38 524.30V556.00M253.78 556.00H256.98" stroke="#3a3a3a" stroke-opacity="0.33" stroke-width="0.8" fill="none"/>
<path d="M276.33 443.70V474.20M274.73 443.70H277.93" stroke="#cfcfcf" stroke-width="0.8" fill="none"/>
<path d="M276.33 474.20V504.70M274.73 504.70H277.93" stroke="#3a3a3a" stroke-opacity="0.33" stroke-width="0.8" fill="none"/>
<path d="M284.73 429.20V461.00M283.12 429.20H286.33" stroke="#cfcfcf" stroke-width="0.8" fill="none"/>
<path d="M284.73 461.00V492.80M283.12 492.80H286.33" stroke="#3a3a3a" stroke-opacity="0.33" stroke-width="0.8" fill="none"/>
<path d="M297.28 442.10V491.10M295.68 442.10H298.88" stroke="#cfcfcf" stroke-width="0.8" fill="none"/>
<path d="M297.28 491.10V540.10M295.68 540.10H298.88" stroke="#3a3a3a" stroke-opacity="0.33" stroke-width="0.8" fill="none"/>
<path d="M305.68 439.60V489.10M304.07 439.60H307.28" stroke="#cfcfcf" stroke-width="0.8" fill="none"/>
<path d="M305.68 489.10V538.60M304.07 538.60H307.28" stroke="#3a3a3a" stroke-opacity="0.33" stroke-width="0.8" fill="none"/>
<line x1="105.83" y1="411.00" x2="105.83" y2="556.00" stroke="#8e8e8e" stroke-width="1.3" stroke-dasharray="5 5"/>
<line x1="175.65" y1="411.00" x2="175.65" y2="556.00" stroke="#8e8e8e" stroke-width="1.3" stroke-dasharray="5 5"/>
<line x1="245.48" y1="411.00" x2="245.48" y2="556.00" stroke="#8e8e8e" stroke-width="1.3" stroke-dasharray="5 5"/>
<polyline points="50.10,498.30 71.05,435.70 92.00,486.40" fill="none" stroke="#7b3a42" stroke-width="1.2"/>
<polygon points="50.10,494.90 50.98,497.09 53.33,497.25 51.53,498.76 52.10,501.05 50.10,499.80 48.10,501.05 48.67,498.76 46.87,497.25 49.22,497.09" fill="#7b3a42"/>
<polygon points="71.05,432.30 71.93,434.49 74.28,434.65 72.48,436.16 73.05,438.45 71.05,437.20 69.05,438.45 69.62,436.16 67.82,434.65 70.17,434.49" fill="#7b3a42"/>
<polygon points="92.00,483.00 92.88,485.19 95.23,485.35 93.43,486.86 94.00,489.15 92.00,487.90 90.00,489.15 90.57,486.86 88.77,485.35 91.12,485.19" fill="#7b3a42"/>
<polyline points="119.92,496.30 140.88,441.10 161.82,489.10" fill="none" stroke="#7b3a42" stroke-width="1.2"/>
<polygon points="119.92,492.90 120.81,495.09 123.16,495.25 121.35,496.76 121.92,499.05 119.92,497.80 117.93,499.05 118.50,496.76 116.69,495.25 119.04,495.09" fill="#7b3a42"/>
<polygon points="140.88,437.70 141.76,439.89 144.11,440.05 142.30,441.56 142.87,443.85 140.88,442.60 138.88,443.85 139.45,441.56 137.64,440.05 139.99,439.89" fill="#7b3a42"/>
<polygon points="161.82,485.70 162.71,487.89 165.06,488.05 163.25,489.56 163.82,491.85 161.82,490.60 159.83,491.85 160.40,489.56 158.59,488.05 160.94,487.89" fill="#7b3a42"/>
<polyline points="189.75,497.80 210.70,445.70 231.65,490.50" fill="none" stroke="#7b3a42" stroke-width="1.2"/>
<polygon points="189.75,494.40 190.63,496.59 192.98,496.75 191.18,498.26 191.75,500.55 189.75,499.30 187.75,500.55 188.32,498.26 186.52,496.75 188.87,496.59" fill="#7b3a42"/>
<polygon points="210.70,442.30 211.58,444.49 213.93,444.65 212.13,446.16 212.70,448.45 210.70,447.20 208.70,448.45 209.27,446.16 207.47,444.65 209.82,444.49" fill="#7b3a42"/>
<polygon points="231.65,487.10 232.53,489.29 234.88,489.45 233.08,490.96 233.65,493.25 231.65,492.00 229.65,493.25 230.22,490.96 228.42,489.45 230.77,489.29" fill="#7b3a42"/>
<polyline points="259.58,495.80 280.53,449.10 301.48,490.50" fill="none" stroke="#7b3a42" stroke-width="1.2"/>
<polygon points="259.58,492.40 260.46,494.59 262.81,494.75 261.00,496.26 261.57,498.55 259.58,497.30 257.58,498.55 258.15,496.26 256.34,494.75 258.69,494.59" fill="#7b3a42"/>
<polygon points="280.53,445.70 281.41,447.89 283.76,448.05 281.95,449.56 282.52,451.85 280.53,450.60 278.53,451.85 279.10,449.56 277.29,448.05 279.64,447.89" fill="#7b3a42"/>
<polygon points="301.48,487.10 302.36,489.29 304.71,489.45 302.90,490.96 303.47,493.25 301.48,492.00 299.48,493.25 300.05,490.96 298.24,489.45 300.59,489.29" fill="#7b3a42"/>
<text x="71.00" y="423.90" font-size="8.6" font-weight="bold" text-anchor="middle" fill="#111">GZ</text>
<text x="140.82" y="423.90" font-size="8.6" font-weight="bold" text-anchor="middle" fill="#111">DG</text>
<text x="210.65" y="423.90" font-size="8.6" font-weight="bold" text-anchor="middle" fill="#111">SZ</text>
<text x="280.48" y="423.90" font-size="8.6" font-weight="bold" text-anchor="middle" fill="#111">HZ</text>
<line x1="35.70" y1="411.00" x2="315.30" y2="411.00" stroke="#1c1c1c" stroke-width="1.25"/>
<line x1="35.70" y1="556.30" x2="315.30" y2="556.30" stroke="#1c1c1c" stroke-width="1.2"/>
<line x1="36.30" y1="411.00" x2="36.30" y2="556.30" stroke="#1c1c1c" stroke-width="1.2"/>
<line x1="315.30" y1="410.40" x2="315.30" y2="556.90" stroke="#7e444c" stroke-width="1.25"/>
<line x1="33.40" y1="556.00" x2="36.30" y2="556.00" stroke="#1c1c1c" stroke-width="1"/>
<line x1="34.70" y1="542.82" x2="36.30" y2="542.82" stroke="#1c1c1c" stroke-width="1"/>
<line x1="33.40" y1="529.64" x2="36.30" y2="529.64" stroke="#1c1c1c" stroke-width="1"/>
<line x1="34.70" y1="516.45" x2="36.30" y2="516.45" stroke="#1c1c1c" stroke-width="1"/>
<line x1="33.40" y1="503.27" x2="36.30" y2="503.27" stroke="#1c1c1c" stroke-width="1"/>
<line x1="34.70" y1="490.09" x2="36.30" y2="490.09" stroke="#1c1c1c" stroke-width="1"/>
<line x1="33.40" y1="476.91" x2="36.30" y2="476.91" stroke="#1c1c1c" stroke-width="1"/>
<line x1="34.70" y1="463.73" x2="36.30" y2="463.73" stroke="#1c1c1c" stroke-width="1"/>
<line x1="33.40" y1="450.55" x2="36.30" y2="450.55" stroke="#1c1c1c" stroke-width="1"/>
<line x1="34.70" y1="437.36" x2="36.30" y2="437.36" stroke="#1c1c1c" stroke-width="1"/>
<line x1="33.40" y1="424.18" x2="36.30" y2="424.18" stroke="#1c1c1c" stroke-width="1"/>
<line x1="34.70" y1="411.00" x2="36.30" y2="411.00" stroke="#1c1c1c" stroke-width="1"/>
<text x="31.50" y="559.00" font-size="8.6" font-weight="bold" text-anchor="end" fill="#111">0</text>
<text x="31.50" y="532.64" font-size="8.6" font-weight="bold" text-anchor="end" fill="#111">1</text>
<text x="31.50" y="506.27" font-size="8.6" font-weight="bold" text-anchor="end" fill="#111">2</text>
<text x="31.50" y="479.91" font-size="8.6" font-weight="bold" text-anchor="end" fill="#111">3</text>
<text x="31.50" y="453.55" font-size="8.6" font-weight="bold" text-anchor="end" fill="#111">4</text>
<text x="31.50" y="427.18" font-size="8.6" font-weight="bold" text-anchor="end" fill="#111">5</text>
<line x1="315.30" y1="556.00" x2="318.30" y2="556.00" stroke="#7e444c" stroke-width="1"/>
<line x1="315.30" y1="541.50" x2="317.10" y2="541.50" stroke="#7e444c" stroke-width="1"/>
<line x1="315.30" y1="527.00" x2="318.30" y2="527.00" stroke="#7e444c" stroke-width="1"/>
<line x1="315.30" y1="512.50" x2="317.10" y2="512.50" stroke="#7e444c" stroke-width="1"/>
<line x1="315.30" y1="498.00" x2="318.30" y2="498.00" stroke="#7e444c" stroke-width="1"/>
<line x1="315.30" y1="483.50" x2="317.10" y2="483.50" stroke="#7e444c" stroke-width="1"/>
<line x1="315.30" y1="469.00" x2="318.30" y2="469.00" stroke="#7e444c" stroke-width="1"/>
<line x1="315.30" y1="454.50" x2="317.10" y2="454.50" stroke="#7e444c" stroke-width="1"/>
<line x1="315.30" y1="440.00" x2="318.30" y2="440.00" stroke="#7e444c" stroke-width="1"/>
<line x1="315.30" y1="425.50" x2="317.10" y2="425.50" stroke="#7e444c" stroke-width="1"/>
<line x1="315.30" y1="411.00" x2="318.30" y2="411.00" stroke="#7e444c" stroke-width="1"/>
<text x="319.70" y="558.90" font-size="8.4" font-weight="bold" text-anchor="start" fill="#7e444c">-0.6</text>
<text x="319.70" y="529.90" font-size="8.4" font-weight="bold" text-anchor="start" fill="#7e444c">-0.3</text>
<text x="319.70" y="500.90" font-size="8.4" font-weight="bold" text-anchor="start" fill="#7e444c">0.0</text>
<text x="319.70" y="471.90" font-size="8.4" font-weight="bold" text-anchor="start" fill="#7e444c">0.3</text>
<text x="319.70" y="442.90" font-size="8.4" font-weight="bold" text-anchor="start" fill="#7e444c">0.6</text>
<text x="319.70" y="413.90" font-size="8.4" font-weight="bold" text-anchor="start" fill="#7e444c">0.9</text>
<line x1="47.30" y1="556.30" x2="47.30" y2="558.90" stroke="#1c1c1c" stroke-width="1"/>
<text transform="translate(53.50 567.40) rotate(-22)" font-size="9.2" font-weight="bold" text-anchor="end" fill="#111">Morning</text>
<line x1="71.00" y1="556.30" x2="71.00" y2="558.90" stroke="#1c1c1c" stroke-width="1"/>
<text transform="translate(77.20 567.40) rotate(-22)" font-size="9.2" font-weight="bold" text-anchor="end" fill="#111">Noon</text>
<line x1="94.30" y1="556.30" x2="94.30" y2="558.90" stroke="#1c1c1c" stroke-width="1"/>
<text transform="translate(100.50 567.40) rotate(-22)" font-size="9.2" font-weight="bold" text-anchor="end" fill="#111">Night</text>
<line x1="117.12" y1="556.30" x2="117.12" y2="558.90" stroke="#1c1c1c" stroke-width="1"/>
<text transform="translate(123.33 567.40) rotate(-22)" font-size="9.2" font-weight="bold" text-anchor="end" fill="#111">Morning</text>
<line x1="140.82" y1="556.30" x2="140.82" y2="558.90" stroke="#1c1c1c" stroke-width="1"/>
<text transform="translate(147.03 567.40) rotate(-22)" font-size="9.2" font-weight="bold" text-anchor="end" fill="#111">Noon</text>
<line x1="164.12" y1="556.30" x2="164.12" y2="558.90" stroke="#1c1c1c" stroke-width="1"/>
<text transform="translate(170.33 567.40) rotate(-22)" font-size="9.2" font-weight="bold" text-anchor="end" fill="#111">Night</text>
<line x1="186.95" y1="556.30" x2="186.95" y2="558.90" stroke="#1c1c1c" stroke-width="1"/>
<text transform="translate(193.15 567.40) rotate(-22)" font-size="9.2" font-weight="bold" text-anchor="end" fill="#111">Morning</text>
<line x1="210.65" y1="556.30" x2="210.65" y2="558.90" stroke="#1c1c1c" stroke-width="1"/>
<text transform="translate(216.85 567.40) rotate(-22)" font-size="9.2" font-weight="bold" text-anchor="end" fill="#111">Noon</text>
<line x1="233.95" y1="556.30" x2="233.95" y2="558.90" stroke="#1c1c1c" stroke-width="1"/>
<text transform="translate(240.15 567.40) rotate(-22)" font-size="9.2" font-weight="bold" text-anchor="end" fill="#111">Night</text>
<line x1="256.78" y1="556.30" x2="256.78" y2="558.90" stroke="#1c1c1c" stroke-width="1"/>
<text transform="translate(262.98 567.40) rotate(-22)" font-size="9.2" font-weight="bold" text-anchor="end" fill="#111">Morning</text>
<line x1="280.48" y1="556.30" x2="280.48" y2="558.90" stroke="#1c1c1c" stroke-width="1"/>
<text transform="translate(286.68 567.40) rotate(-22)" font-size="9.2" font-weight="bold" text-anchor="end" fill="#111">Noon</text>
<line x1="303.78" y1="556.30" x2="303.78" y2="558.90" stroke="#1c1c1c" stroke-width="1"/>
<text transform="translate(309.98 567.40) rotate(-22)" font-size="9.2" font-weight="bold" text-anchor="end" fill="#111">Night</text>
<text transform="translate(21.10 484.00) rotate(-90)" font-size="8.85" font-weight="bold" text-anchor="middle" fill="#111">Summer Concentration (ppbv)</text>
<text transform="translate(342.79 483.20) rotate(-90)" font-size="8.80" font-weight="bold" text-anchor="middle" fill="#7e444c">PL-OVOCs Concentration (ppbv)</text>
<rect x="55.20" y="399.40" width="17.2" height="8.4" fill="#94bbee"/>
<text x="75.50" y="406.50" font-size="10.1" font-weight="bold" fill="#111">Ob-OVOCs</text>
<rect x="143.30" y="399.40" width="17.2" height="8.4" fill="#ea6c77"/>
<text x="163.50" y="406.50" font-size="10.1" font-weight="bold" fill="#111">In-OVOCs</text>
<line x1="227.90" y1="403.90" x2="246.60" y2="403.90" stroke="#7b3a42" stroke-width="1.1"/>
<polygon points="237.40,400.40 238.28,402.59 240.63,402.75 238.83,404.26 239.40,406.55 237.40,405.30 235.40,406.55 235.97,404.26 234.17,402.75 236.52,402.59" fill="#7b3a42"/>
<text x="249.50" y="406.50" font-size="10.1" font-weight="bold" fill="#111">PL-OVOCs</text>
<text x="2.2" y="414.30" font-size="16.5" font-weight="bold" fill="#000">(c)</text>
<rect x="378.70" y="546.40" width="8.40" height="9.50" fill="#94bbee" stroke="#7f9cc4" stroke-width="0.4"/>
<rect x="387.10" y="546.40" width="8.40" height="9.50" fill="#ea6c77" stroke="#b85862" stroke-width="0.4"/>
<rect x="399.65" y="535.20" width="8.40" height="20.70" fill="#94bbee" stroke="#7f9cc4" stroke-width="0.4"/>
<rect x="408.05" y="531.20" width="8.40" height="24.70" fill="#ea6c77" stroke="#b85862" stroke-width="0.4"/>
<rect x="420.60" y="550.40" width="8.40" height="5.50" fill="#94bbee" stroke="#7f9cc4" stroke-width="0.4"/>
<rect x="429.00" y="550.40" width="8.40" height="5.50" fill="#ea6c77" stroke="#b85862" stroke-width="0.4"/>
<rect x="448.78" y="505.90" width="8.40" height="50.00" fill="#94bbee" stroke="#7f9cc4" stroke-width="0.4"/>
<rect x="457.18" y="505.90" width="8.40" height="50.00" fill="#ea6c77" stroke="#b85862" stroke-width="0.4"/>
<rect x="469.73" y="474.20" width="8.40" height="81.70" fill="#94bbee" stroke="#7f9cc4" stroke-width="0.4"/>
<rect x="478.12" y="462.40" width="8.40" height="93.50" fill="#ea6c77" stroke="#b85862" stroke-width="0.4"/>
<rect x="490.68" y="501.90" width="8.40" height="54.00" fill="#94bbee" stroke="#7f9cc4" stroke-width="0.4"/>
<rect x="499.07" y="499.40" width="8.40" height="56.50" fill="#ea6c77" stroke="#b85862" stroke-width="0.4"/>
<rect x="518.85" y="545.00" width="8.40" height="10.90" fill="#94bbee" stroke="#7f9cc4" stroke-width="0.4"/>
<rect x="527.25" y="545.00" width="8.40" height="10.90" fill="#ea6c77" stroke="#b85862" stroke-width="0.4"/>
<rect x="539.80" y="537.90" width="8.40" height="18.00" fill="#94bbee" stroke="#7f9cc4" stroke-width="0.4"/>
<rect x="548.20" y="535.20" width="8.40" height="20.70" fill="#ea6c77" stroke="#b85862" stroke-width="0.4"/>
<rect x="560.75" y="547.80" width="8.40" height="8.10" fill="#94bbee" stroke="#7f9cc4" stroke-width="0.4"/>
<rect x="569.15" y="547.00" width="8.40" height="8.90" fill="#ea6c77" stroke="#b85862" stroke-width="0.4"/>
<rect x="588.92" y="547.80" width="8.40" height="8.10" fill="#94bbee" stroke="#7f9cc4" stroke-width="0.4"/>
<rect x="597.32" y="547.80" width="8.40" height="8.10" fill="#ea6c77" stroke="#b85862" stroke-width="0.4"/>
<rect x="609.87" y="504.90" width="8.40" height="51.00" fill="#94bbee" stroke="#7f9cc4" stroke-width="0.4"/>
<rect x="618.27" y="497.00" width="8.40" height="58.90" fill="#ea6c77" stroke="#b85862" stroke-width="0.4"/>
<rect x="630.82" y="532.60" width="8.40" height="23.30" fill="#94bbee" stroke="#7f9cc4" stroke-width="0.4"/>
<rect x="639.22" y="532.00" width="8.40" height="23.90" fill="#ea6c77" stroke="#b85862" stroke-width="0.4"/>
<path d="M382.90 540.00V546.40M381.30 540.00H384.50" stroke="#cfcfcf" stroke-width="0.8" fill="none"/>
<path d="M382.90 546.40V552.80M381.30 552.80H384.50" stroke="#3a3a3a" stroke-opacity="0.33" stroke-width="0.8" fill="none"/>
<path d="M391.30 540.40V546.40M389.70 540.40H392.90" stroke="#cfcfcf" stroke-width="0.8" fill="none"/>
<path d="M391.30 546.40V552.40M389.70 552.40H392.90" stroke="#3a3a3a" stroke-opacity="0.33" stroke-width="0.8" fill="none"/>
<path d="M403.85 532.20V535.20M402.25 532.20H405.45" stroke="#cfcfcf" stroke-width="0.8" fill="none"/>
<path d="M403.85 535.20V538.20M402.25 538.20H405.45" stroke="#3a3a3a" stroke-opacity="0.33" stroke-width="0.8" fill="none"/>
<path d="M412.25 529.20V531.20M410.65 529.20H413.85" stroke="#cfcfcf" stroke-width="0.8" fill="none"/>
<path d="M412.25 531.20V533.20M410.65 533.20H413.85" stroke="#3a3a3a" stroke-opacity="0.33" stroke-width="0.8" fill="none"/>
<path d="M452.98 494.40V505.90M451.38 494.40H454.58" stroke="#cfcfcf" stroke-width="0.8" fill="none"/>
<path d="M452.98 505.90V517.40M451.38 517.40H454.58" stroke="#3a3a3a" stroke-opacity="0.33" stroke-width="0.8" fill="none"/>
<path d="M461.38 494.40V505.90M459.77 494.40H462.98" stroke="#cfcfcf" stroke-width="0.8" fill="none"/>
<path d="M461.38 505.90V517.40M459.77 517.40H462.98" stroke="#3a3a3a" stroke-opacity="0.33" stroke-width="0.8" fill="none"/>
<path d="M473.93 442.40V474.20M472.32 442.40H475.53" stroke="#cfcfcf" stroke-width="0.8" fill="none"/>
<path d="M473.93 474.20V506.00M472.32 506.00H475.53" stroke="#3a3a3a" stroke-opacity="0.33" stroke-width="0.8" fill="none"/>
<path d="M482.32 442.40V462.40M480.72 442.40H483.93" stroke="#cfcfcf" stroke-width="0.8" fill="none"/>
<path d="M482.32 462.40V482.40M480.72 482.40H483.93" stroke="#3a3a3a" stroke-opacity="0.33" stroke-width="0.8" fill="none"/>
<path d="M494.88 469.90V501.90M493.27 469.90H496.48" stroke="#cfcfcf" stroke-width="0.8" fill="none"/>
<path d="M494.88 501.90V533.90M493.27 533.90H496.48" stroke="#3a3a3a" stroke-opacity="0.33" stroke-width="0.8" fill="none"/>
<path d="M503.27 466.40V499.40M501.67 466.40H504.88" stroke="#cfcfcf" stroke-width="0.8" fill="none"/>
<path d="M503.27 499.40V532.40M501.67 532.40H504.88" stroke="#3a3a3a" stroke-opacity="0.33" stroke-width="0.8" fill="none"/>
<path d="M523.05 536.20V545.00M521.45 536.20H524.65" stroke="#cfcfcf" stroke-width="0.8" fill="none"/>
<path d="M523.05 545.00V553.80M521.45 553.80H524.65" stroke="#3a3a3a" stroke-opacity="0.33" stroke-width="0.8" fill="none"/>
<path d="M544.00 533.90V537.90M542.40 533.90H545.60" stroke="#cfcfcf" stroke-width="0.8" fill="none"/>
<path d="M544.00 537.90V541.90M542.40 541.90H545.60" stroke="#3a3a3a" stroke-opacity="0.33" stroke-width="0.8" fill="none"/>
<path d="M564.95 544.50V547.80M563.35 544.50H566.55" stroke="#cfcfcf" stroke-width="0.8" fill="none"/>
<path d="M564.95 547.80V551.10M563.35 551.10H566.55" stroke="#3a3a3a" stroke-opacity="0.33" stroke-width="0.8" fill="none"/>
<path d="M573.35 544.00V547.00M571.75 544.00H574.95" stroke="#cfcfcf" stroke-width="0.8" fill="none"/>
<path d="M573.35 547.00V550.00M571.75 550.00H574.95" stroke="#3a3a3a" stroke-opacity="0.33" stroke-width="0.8" fill="none"/>
<path d="M593.12 541.80V547.80M591.52 541.80H594.72" stroke="#cfcfcf" stroke-width="0.8" fill="none"/>
<path d="M593.12 547.80V553.80M591.52 553.80H594.72" stroke="#3a3a3a" stroke-opacity="0.33" stroke-width="0.8" fill="none"/>
<path d="M601.52 541.80V547.80M599.92 541.80H603.12" stroke="#cfcfcf" stroke-width="0.8" fill="none"/>
<path d="M601.52 547.80V553.80M599.92 553.80H603.12" stroke="#3a3a3a" stroke-opacity="0.33" stroke-width="0.8" fill="none"/>
<path d="M614.07 488.90V504.90M612.47 488.90H615.67" stroke="#cfcfcf" stroke-width="0.8" fill="none"/>
<path d="M614.07 504.90V520.90M612.47 520.90H615.67" stroke="#3a3a3a" stroke-opacity="0.33" stroke-width="0.8" fill="none"/>
<path d="M622.47 479.00V497.00M620.87 479.00H624.07" stroke="#cfcfcf" stroke-width="0.8" fill="none"/>
<path d="M622.47 497.00V515.00M620.87 515.00H624.07" stroke="#3a3a3a" stroke-opacity="0.33" stroke-width="0.8" fill="none"/>
<path d="M635.02 511.60V532.60M633.42 511.60H636.62" stroke="#cfcfcf" stroke-width="0.8" fill="none"/>
<path d="M635.02 532.60V553.60M633.42 553.60H636.62" stroke="#3a3a3a" stroke-opacity="0.33" stroke-width="0.8" fill="none"/>
<path d="M643.42 510.00V532.00M641.82 510.00H645.02" stroke="#cfcfcf" stroke-width="0.8" fill="none"/>
<path d="M643.42 532.00V554.00M641.82 554.00H645.02" stroke="#3a3a3a" stroke-opacity="0.33" stroke-width="0.8" fill="none"/>
<line x1="443.07" y1="410.40" x2="443.07" y2="555.90" stroke="#8e8e8e" stroke-width="1.3" stroke-dasharray="5 5"/>
<line x1="513.15" y1="410.40" x2="513.15" y2="555.90" stroke="#8e8e8e" stroke-width="1.3" stroke-dasharray="5 5"/>
<line x1="583.22" y1="410.40" x2="583.22" y2="555.90" stroke="#8e8e8e" stroke-width="1.3" stroke-dasharray="5 5"/>
<polyline points="387.10,501.30 408.05,477.70 429.00,500.10" fill="none" stroke="#7b3a42" stroke-width="1.2"/>
<polygon points="387.10,497.90 387.98,500.09 390.33,500.25 388.53,501.76 389.10,504.05 387.10,502.80 385.10,504.05 385.67,501.76 383.87,500.25 386.22,500.09" fill="#7b3a42"/>
<polygon points="408.05,474.30 408.93,476.49 411.28,476.65 409.48,478.16 410.05,480.45 408.05,479.20 406.05,480.45 406.62,478.16 404.82,476.65 407.17,476.49" fill="#7b3a42"/>
<polygon points="429.00,496.70 429.88,498.89 432.23,499.05 430.43,500.56 431.00,502.85 429.00,501.60 427.00,502.85 427.57,500.56 425.77,499.05 428.12,498.89" fill="#7b3a42"/>
<polyline points="457.18,501.80 478.12,432.40 499.07,488.00" fill="none" stroke="#7b3a42" stroke-width="1.2"/>
<polygon points="457.18,498.40 458.06,500.59 460.41,500.75 458.60,502.26 459.17,504.55 457.18,503.30 455.18,504.55 455.75,502.26 453.94,500.75 456.29,500.59" fill="#7b3a42"/>
<polygon points="478.12,429.00 479.01,431.19 481.36,431.35 479.55,432.86 480.12,435.15 478.12,433.90 476.13,435.15 476.70,432.86 474.89,431.35 477.24,431.19" fill="#7b3a42"/>
<polygon points="499.07,484.60 499.96,486.79 502.31,486.95 500.50,488.46 501.07,490.75 499.07,489.50 497.08,490.75 497.65,488.46 495.84,486.95 498.19,486.79" fill="#7b3a42"/>
<polyline points="527.25,501.80 548.20,484.40 569.15,499.30" fill="none" stroke="#7b3a42" stroke-width="1.2"/>
<polygon points="527.25,498.40 528.13,500.59 530.48,500.75 528.68,502.26 529.25,504.55 527.25,503.30 525.25,504.55 525.82,502.26 524.02,500.75 526.37,500.59" fill="#7b3a42"/>
<polygon points="548.20,481.00 549.08,483.19 551.43,483.35 549.63,484.86 550.20,487.15 548.20,485.90 546.20,487.15 546.77,484.86 544.97,483.35 547.32,483.19" fill="#7b3a42"/>
<polygon points="569.15,495.90 570.03,498.09 572.38,498.25 570.58,499.76 571.15,502.05 569.15,500.80 567.15,502.05 567.72,499.76 565.92,498.25 568.27,498.09" fill="#7b3a42"/>
<polyline points="597.32,501.40 618.27,456.60 639.22,496.40" fill="none" stroke="#7b3a42" stroke-width="1.2"/>
<polygon points="597.32,498.00 598.21,500.19 600.56,500.35 598.75,501.86 599.32,504.15 597.32,502.90 595.33,504.15 595.90,501.86 594.09,500.35 596.44,500.19" fill="#7b3a42"/>
<polygon points="618.27,453.20 619.16,455.39 621.51,455.55 619.70,457.06 620.27,459.35 618.27,458.10 616.28,459.35 616.85,457.06 615.04,455.55 617.39,455.39" fill="#7b3a42"/>
<polygon points="639.22,493.00 640.11,495.19 642.46,495.35 640.65,496.86 641.22,499.15 639.22,497.90 637.23,499.15 637.80,496.86 635.99,495.35 638.34,495.19" fill="#7b3a42"/>
<text x="408.00" y="423.30" font-size="8.6" font-weight="bold" text-anchor="middle" fill="#111">GZ</text>
<text x="478.07" y="423.30" font-size="8.6" font-weight="bold" text-anchor="middle" fill="#111">DG</text>
<text x="548.15" y="423.30" font-size="8.6" font-weight="bold" text-anchor="middle" fill="#111">SZ</text>
<text x="618.22" y="420.80" font-size="6.8" font-weight="bold" text-anchor="middle" fill="#111">HZ</text>
<line x1="372.70" y1="410.40" x2="653.30" y2="410.40" stroke="#1c1c1c" stroke-width="1.25"/>
<line x1="372.70" y1="556.20" x2="653.30" y2="556.20" stroke="#1c1c1c" stroke-width="1.2"/>
<line x1="373.30" y1="410.40" x2="373.30" y2="556.20" stroke="#1c1c1c" stroke-width="1.2"/>
<line x1="653.30" y1="409.80" x2="653.30" y2="556.80" stroke="#7e444c" stroke-width="1.25"/>
<line x1="370.40" y1="555.90" x2="373.30" y2="555.90" stroke="#1c1c1c" stroke-width="1"/>
<line x1="371.70" y1="540.81" x2="373.30" y2="540.81" stroke="#1c1c1c" stroke-width="1"/>
<line x1="370.40" y1="525.71" x2="373.30" y2="525.71" stroke="#1c1c1c" stroke-width="1"/>
<line x1="371.70" y1="510.62" x2="373.30" y2="510.62" stroke="#1c1c1c" stroke-width="1"/>
<line x1="370.40" y1="495.53" x2="373.30" y2="495.53" stroke="#1c1c1c" stroke-width="1"/>
<line x1="371.70" y1="480.43" x2="373.30" y2="480.43" stroke="#1c1c1c" stroke-width="1"/>
<line x1="370.40" y1="465.34" x2="373.30" y2="465.34" stroke="#1c1c1c" stroke-width="1"/>
<line x1="371.70" y1="450.25" x2="373.30" y2="450.25" stroke="#1c1c1c" stroke-width="1"/>
<line x1="370.40" y1="435.15" x2="373.30" y2="435.15" stroke="#1c1c1c" stroke-width="1"/>
<line x1="371.70" y1="420.06" x2="373.30" y2="420.06" stroke="#1c1c1c" stroke-width="1"/>
<text x="368.50" y="558.90" font-size="8.6" font-weight="bold" text-anchor="end" fill="#111">0</text>
<text x="368.50" y="528.71" font-size="8.6" font-weight="bold" text-anchor="end" fill="#111">1</text>
<text x="368.50" y="498.53" font-size="8.6" font-weight="bold" text-anchor="end" fill="#111">2</text>
<text x="368.50" y="468.34" font-size="8.6" font-weight="bold" text-anchor="end" fill="#111">3</text>
<text x="368.50" y="438.15" font-size="8.6" font-weight="bold" text-anchor="end" fill="#111">4</text>
<line x1="653.30" y1="555.90" x2="655.10" y2="555.90" stroke="#7e444c" stroke-width="1"/>
<line x1="653.30" y1="537.71" x2="656.30" y2="537.71" stroke="#7e444c" stroke-width="1"/>
<line x1="653.30" y1="519.52" x2="655.10" y2="519.52" stroke="#7e444c" stroke-width="1"/>
<line x1="653.30" y1="501.34" x2="656.30" y2="501.34" stroke="#7e444c" stroke-width="1"/>
<line x1="653.30" y1="483.15" x2="655.10" y2="483.15" stroke="#7e444c" stroke-width="1"/>
<line x1="653.30" y1="464.96" x2="656.30" y2="464.96" stroke="#7e444c" stroke-width="1"/>
<line x1="653.30" y1="446.77" x2="655.10" y2="446.77" stroke="#7e444c" stroke-width="1"/>
<line x1="653.30" y1="428.59" x2="656.30" y2="428.59" stroke="#7e444c" stroke-width="1"/>
<line x1="653.30" y1="410.40" x2="655.10" y2="410.40" stroke="#7e444c" stroke-width="1"/>
<text x="657.70" y="540.61" font-size="8.4" font-weight="bold" text-anchor="start" fill="#7e444c">-0.2</text>
<text x="657.70" y="504.24" font-size="8.4" font-weight="bold" text-anchor="start" fill="#7e444c">0.0</text>
<text x="657.70" y="467.86" font-size="8.4" font-weight="bold" text-anchor="start" fill="#7e444c">0.2</text>
<text x="657.70" y="431.49" font-size="8.4" font-weight="bold" text-anchor="start" fill="#7e444c">0.4</text>
<line x1="384.30" y1="556.20" x2="384.30" y2="558.80" stroke="#1c1c1c" stroke-width="1"/>
<text transform="translate(390.90 568.10) rotate(-22)" font-size="9.2" font-weight="bold" text-anchor="end" fill="#111">Morning</text>
<line x1="408.00" y1="556.20" x2="408.00" y2="558.80" stroke="#1c1c1c" stroke-width="1"/>
<text transform="translate(414.60 568.10) rotate(-22)" font-size="9.2" font-weight="bold" text-anchor="end" fill="#111">Noon</text>
<line x1="431.30" y1="556.20" x2="431.30" y2="558.80" stroke="#1c1c1c" stroke-width="1"/>
<text transform="translate(437.90 568.10) rotate(-22)" font-size="9.2" font-weight="bold" text-anchor="end" fill="#111">Night</text>
<line x1="454.38" y1="556.20" x2="454.38" y2="558.80" stroke="#1c1c1c" stroke-width="1"/>
<text transform="translate(460.98 568.10) rotate(-22)" font-size="9.2" font-weight="bold" text-anchor="end" fill="#111">Morning</text>
<line x1="478.07" y1="556.20" x2="478.07" y2="558.80" stroke="#1c1c1c" stroke-width="1"/>
<text transform="translate(484.68 568.10) rotate(-22)" font-size="9.2" font-weight="bold" text-anchor="end" fill="#111">Noon</text>
<line x1="501.38" y1="556.20" x2="501.38" y2="558.80" stroke="#1c1c1c" stroke-width="1"/>
<text transform="translate(507.98 568.10) rotate(-22)" font-size="9.2" font-weight="bold" text-anchor="end" fill="#111">Night</text>
<line x1="524.45" y1="556.20" x2="524.45" y2="558.80" stroke="#1c1c1c" stroke-width="1"/>
<text transform="translate(531.05 568.10) rotate(-22)" font-size="9.2" font-weight="bold" text-anchor="end" fill="#111">Morning</text>
<line x1="548.15" y1="556.20" x2="548.15" y2="558.80" stroke="#1c1c1c" stroke-width="1"/>
<text transform="translate(554.75 568.10) rotate(-22)" font-size="9.2" font-weight="bold" text-anchor="end" fill="#111">Noon</text>
<line x1="571.45" y1="556.20" x2="571.45" y2="558.80" stroke="#1c1c1c" stroke-width="1"/>
<text transform="translate(578.05 568.10) rotate(-22)" font-size="9.2" font-weight="bold" text-anchor="end" fill="#111">Night</text>
<line x1="594.52" y1="556.20" x2="594.52" y2="558.80" stroke="#1c1c1c" stroke-width="1"/>
<text transform="translate(601.12 568.10) rotate(-22)" font-size="9.2" font-weight="bold" text-anchor="end" fill="#111">Morning</text>
<line x1="618.22" y1="556.20" x2="618.22" y2="558.80" stroke="#1c1c1c" stroke-width="1"/>
<text transform="translate(624.82 568.10) rotate(-22)" font-size="9.2" font-weight="bold" text-anchor="end" fill="#111">Noon</text>
<line x1="641.52" y1="556.20" x2="641.52" y2="558.80" stroke="#1c1c1c" stroke-width="1"/>
<text transform="translate(648.12 568.10) rotate(-22)" font-size="9.2" font-weight="bold" text-anchor="end" fill="#111">Night</text>
<text transform="translate(357.58 480.85) rotate(-90)" font-size="9.55" font-weight="bold" text-anchor="middle" fill="#111">Winter Concentration (ppbv)</text>
<text transform="translate(680.23 479.55) rotate(-90)" font-size="8.56" font-weight="bold" text-anchor="middle" fill="#7e444c">PL-OVOCs Concentration (ppbv)</text>
<rect x="391.50" y="399.30" width="17.2" height="8.4" fill="#94bbee"/>
<text x="411.80" y="406.40" font-size="10.1" font-weight="bold" fill="#111">Ob-OVOCs</text>
<rect x="479.30" y="399.30" width="17.2" height="8.4" fill="#ea6c77"/>
<text x="499.50" y="406.40" font-size="10.1" font-weight="bold" fill="#111">In-OVOCs</text>
<line x1="564.30" y1="403.80" x2="583.00" y2="403.80" stroke="#7b3a42" stroke-width="1.1"/>
<polygon points="573.80,400.30 574.68,402.49 577.03,402.65 575.23,404.16 575.80,406.45 573.80,405.20 571.80,406.45 572.37,404.16 570.57,402.65 572.92,402.49" fill="#7b3a42"/>
<text x="585.90" y="406.40" font-size="10.1" font-weight="bold" fill="#111">PL-OVOCs</text>
<rect x="41.70" y="695.30" width="8.40" height="47.70" fill="#94bbee" stroke="#7f9cc4" stroke-width="0.4"/>
<rect x="50.10" y="695.30" width="8.40" height="47.70" fill="#ea6c77" stroke="#b85862" stroke-width="0.4"/>
<rect x="62.65" y="719.20" width="8.40" height="23.80" fill="#94bbee" stroke="#7f9cc4" stroke-width="0.4"/>
<rect x="71.05" y="706.10" width="8.40" height="36.90" fill="#ea6c77" stroke="#b85862" stroke-width="0.4"/>
<rect x="83.60" y="705.20" width="8.40" height="37.80" fill="#94bbee" stroke="#7f9cc4" stroke-width="0.4"/>
<rect x="92.00" y="701.40" width="8.40" height="41.60" fill="#ea6c77" stroke="#b85862" stroke-width="0.4"/>
<rect x="111.55" y="676.10" width="8.40" height="66.90" fill="#94bbee" stroke="#7f9cc4" stroke-width="0.4"/>
<rect x="119.95" y="675.10" width="8.40" height="67.90" fill="#ea6c77" stroke="#b85862" stroke-width="0.4"/>
<rect x="132.50" y="682.00" width="8.40" height="61.00" fill="#94bbee" stroke="#7f9cc4" stroke-width="0.4"/>
<rect x="140.90" y="665.80" width="8.40" height="77.20" fill="#ea6c77" stroke="#b85862" stroke-width="0.4"/>
<rect x="153.45" y="639.90" width="8.40" height="103.10" fill="#94bbee" stroke="#7f9cc4" stroke-width="0.4"/>
<rect x="161.85" y="635.90" width="8.40" height="107.10" fill="#ea6c77" stroke="#b85862" stroke-width="0.4"/>
<rect x="181.40" y="693.90" width="8.40" height="49.10" fill="#94bbee" stroke="#7f9cc4" stroke-width="0.4"/>
<rect x="189.80" y="693.90" width="8.40" height="49.10" fill="#ea6c77" stroke="#b85862" stroke-width="0.4"/>
<rect x="202.35" y="720.20" width="8.40" height="22.80" fill="#94bbee" stroke="#7f9cc4" stroke-width="0.4"/>
<rect x="210.75" y="707.10" width="8.40" height="35.90" fill="#ea6c77" stroke="#b85862" stroke-width="0.4"/>
<rect x="223.30" y="702.40" width="8.40" height="40.60" fill="#94bbee" stroke="#7f9cc4" stroke-width="0.4"/>
<rect x="231.70" y="699.20" width="8.40" height="43.80" fill="#ea6c77" stroke="#b85862" stroke-width="0.4"/>
<rect x="251.25" y="691.90" width="8.40" height="51.10" fill="#94bbee" stroke="#7f9cc4" stroke-width="0.4"/>
<rect x="259.65" y="691.50" width="8.40" height="51.50" fill="#ea6c77" stroke="#b85862" stroke-width="0.4"/>
<rect x="272.20" y="692.90" width="8.40" height="50.10" fill="#94bbee" stroke="#7f9cc4" stroke-width="0.4"/>
<rect x="280.60" y="682.00" width="8.40" height="61.00" fill="#ea6c77" stroke="#b85862" stroke-width="0.4"/>
<rect x="293.15" y="664.20" width="8.40" height="78.80" fill="#94bbee" stroke="#7f9cc4" stroke-width="0.4"/>
<rect x="301.55" y="661.80" width="8.40" height="81.20" fill="#ea6c77" stroke="#b85862" stroke-width="0.4"/>
<path d="M45.90 686.60V695.30M44.30 686.60H47.50" stroke="#cfcfcf" stroke-width="0.8" fill="none"/>
<path d="M45.90 695.30V704.00M44.30 704.00H47.50" stroke="#3a3a3a" stroke-opacity="0.33" stroke-width="0.8" fill="none"/>
<path d="M54.30 686.10V695.30M52.70 686.10H55.90" stroke="#cfcfcf" stroke-width="0.8" fill="none"/>
<path d="M54.30 695.30V704.50M52.70 704.50H55.90" stroke="#3a3a3a" stroke-opacity="0.33" stroke-width="0.8" fill="none"/>
<path d="M66.85 711.40V719.20M65.25 711.40H68.45" stroke="#cfcfcf" stroke-width="0.8" fill="none"/>
<path d="M66.85 719.20V727.00M65.25 727.00H68.45" stroke="#3a3a3a" stroke-opacity="0.33" stroke-width="0.8" fill="none"/>
<path d="M75.25 695.30V706.10M73.65 695.30H76.85" stroke="#cfcfcf" stroke-width="0.8" fill="none"/>
<path d="M75.25 706.10V716.90M73.65 716.90H76.85" stroke="#3a3a3a" stroke-opacity="0.33" stroke-width="0.8" fill="none"/>
<path d="M87.80 695.40V705.20M86.20 695.40H89.40" stroke="#cfcfcf" stroke-width="0.8" fill="none"/>
<path d="M87.80 705.20V715.00M86.20 715.00H89.40" stroke="#3a3a3a" stroke-opacity="0.33" stroke-width="0.8" fill="none"/>
<path d="M115.75 660.90V676.10M114.15 660.90H117.35" stroke="#cfcfcf" stroke-width="0.8" fill="none"/>
<path d="M115.75 676.10V691.30M114.15 691.30H117.35" stroke="#3a3a3a" stroke-opacity="0.33" stroke-width="0.8" fill="none"/>
<path d="M124.15 658.30V675.10M122.55 658.30H125.75" stroke="#cfcfcf" stroke-width="0.8" fill="none"/>
<path d="M124.15 675.10V691.90M122.55 691.90H125.75" stroke="#3a3a3a" stroke-opacity="0.33" stroke-width="0.8" fill="none"/>
<path d="M136.70 657.30V682.00M135.10 657.30H138.30" stroke="#cfcfcf" stroke-width="0.8" fill="none"/>
<path d="M136.70 682.00V706.70M135.10 706.70H138.30" stroke="#3a3a3a" stroke-opacity="0.33" stroke-width="0.8" fill="none"/>
<path d="M145.10 632.20V665.80M143.50 632.20H146.70" stroke="#cfcfcf" stroke-width="0.8" fill="none"/>
<path d="M145.10 665.80V699.40M143.50 699.40H146.70" stroke="#3a3a3a" stroke-opacity="0.33" stroke-width="0.8" fill="none"/>
<path d="M157.65 612.60V639.90M156.05 612.60H159.25" stroke="#cfcfcf" stroke-width="0.8" fill="none"/>
<path d="M157.65 639.90V667.20M156.05 667.20H159.25" stroke="#3a3a3a" stroke-opacity="0.33" stroke-width="0.8" fill="none"/>
<path d="M166.05 610.90V635.90M164.45 610.90H167.65" stroke="#cfcfcf" stroke-width="0.8" fill="none"/>
<path d="M166.05 635.90V660.90M164.45 660.90H167.65" stroke="#3a3a3a" stroke-opacity="0.33" stroke-width="0.8" fill="none"/>
<path d="M185.60 681.10V693.90M184.00 681.10H187.20" stroke="#cfcfcf" stroke-width="0.8" fill="none"/>
<path d="M185.60 693.90V706.70M184.00 706.70H187.20" stroke="#3a3a3a" stroke-opacity="0.33" stroke-width="0.8" fill="none"/>
<path d="M194.00 681.10V693.90M192.40 681.10H195.60" stroke="#cfcfcf" stroke-width="0.8" fill="none"/>
<path d="M194.00 693.90V706.70M192.40 706.70H195.60" stroke="#3a3a3a" stroke-opacity="0.33" stroke-width="0.8" fill="none"/>
<path d="M206.55 710.50V720.20M204.95 710.50H208.15" stroke="#cfcfcf" stroke-width="0.8" fill="none"/>
<path d="M206.55 720.20V729.90M204.95 729.90H208.15" stroke="#3a3a3a" stroke-opacity="0.33" stroke-width="0.8" fill="none"/>
<path d="M214.95 696.40V707.10M213.35 696.40H216.55" stroke="#cfcfcf" stroke-width="0.8" fill="none"/>
<path d="M214.95 707.10V717.80M213.35 717.80H216.55" stroke="#3a3a3a" stroke-opacity="0.33" stroke-width="0.8" fill="none"/>
<path d="M235.90 687.00V699.20M234.30 687.00H237.50" stroke="#cfcfcf" stroke-width="0.8" fill="none"/>
<path d="M235.90 699.20V711.40M234.30 711.40H237.50" stroke="#3a3a3a" stroke-opacity="0.33" stroke-width="0.8" fill="none"/>
<path d="M255.45 687.40V691.90M253.85 687.40H257.05" stroke="#cfcfcf" stroke-width="0.8" fill="none"/>
<path d="M255.45 691.90V696.40M253.85 696.40H257.05" stroke="#3a3a3a" stroke-opacity="0.33" stroke-width="0.8" fill="none"/>
<path d="M263.85 685.50V691.50M262.25 685.50H265.45" stroke="#cfcfcf" stroke-width="0.8" fill="none"/>
<path d="M263.85 691.50V697.50M262.25 697.50H265.45" stroke="#3a3a3a" stroke-opacity="0.33" stroke-width="0.8" fill="none"/>
<path d="M276.40 673.10V692.90M274.80 673.10H278.00" stroke="#cfcfcf" stroke-width="0.8" fill="none"/>
<path d="M276.40 692.90V712.70M274.80 712.70H278.00" stroke="#3a3a3a" stroke-opacity="0.33" stroke-width="0.8" fill="none"/>
<path d="M284.80 660.00V682.00M283.20 660.00H286.40" stroke="#cfcfcf" stroke-width="0.8" fill="none"/>
<path d="M284.80 682.00V704.00M283.20 704.00H286.40" stroke="#3a3a3a" stroke-opacity="0.33" stroke-width="0.8" fill="none"/>
<path d="M297.35 643.00V664.20M295.75 643.00H298.95" stroke="#cfcfcf" stroke-width="0.8" fill="none"/>
<path d="M297.35 664.20V685.40M295.75 685.40H298.95" stroke="#3a3a3a" stroke-opacity="0.33" stroke-width="0.8" fill="none"/>
<path d="M305.75 642.00V661.80M304.15 642.00H307.35" stroke="#cfcfcf" stroke-width="0.8" fill="none"/>
<path d="M305.75 661.80V681.60M304.15 681.60H307.35" stroke="#3a3a3a" stroke-opacity="0.33" stroke-width="0.8" fill="none"/>
<line x1="105.85" y1="597.80" x2="105.85" y2="743.00" stroke="#8e8e8e" stroke-width="1.3" stroke-dasharray="5 5"/>
<line x1="175.70" y1="597.80" x2="175.70" y2="743.00" stroke="#8e8e8e" stroke-width="1.3" stroke-dasharray="5 5"/>
<line x1="245.55" y1="597.80" x2="245.55" y2="743.00" stroke="#8e8e8e" stroke-width="1.3" stroke-dasharray="5 5"/>
<polyline points="50.10,690.50 71.05,630.10 92.00,673.20" fill="none" stroke="#7b3a42" stroke-width="1.2"/>
<polygon points="50.10,687.10 50.98,689.29 53.33,689.45 51.53,690.96 52.10,693.25 50.10,692.00 48.10,693.25 48.67,690.96 46.87,689.45 49.22,689.29" fill="#7b3a42"/>
<polygon points="71.05,626.70 71.93,628.89 74.28,629.05 72.48,630.56 73.05,632.85 71.05,631.60 69.05,632.85 69.62,630.56 67.82,629.05 70.17,628.89" fill="#7b3a42"/>
<polygon points="92.00,669.80 92.88,671.99 95.23,672.15 93.43,673.66 94.00,675.95 92.00,674.70 90.00,675.95 90.57,673.66 88.77,672.15 91.12,671.99" fill="#7b3a42"/>
<polyline points="119.95,685.50 140.90,616.40 161.85,672.90" fill="none" stroke="#7b3a42" stroke-width="1.2"/>
<polygon points="119.95,682.10 120.83,684.29 123.18,684.45 121.38,685.96 121.95,688.25 119.95,687.00 117.95,688.25 118.52,685.96 116.72,684.45 119.07,684.29" fill="#7b3a42"/>
<polygon points="140.90,613.00 141.78,615.19 144.13,615.35 142.33,616.86 142.90,619.15 140.90,617.90 138.90,619.15 139.47,616.86 137.67,615.35 140.02,615.19" fill="#7b3a42"/>
<polygon points="161.85,669.50 162.73,671.69 165.08,671.85 163.28,673.36 163.85,675.65 161.85,674.40 159.85,675.65 160.42,673.36 158.62,671.85 160.97,671.69" fill="#7b3a42"/>
<polyline points="189.80,690.00 210.75,629.70 231.70,675.10" fill="none" stroke="#7b3a42" stroke-width="1.2"/>
<polygon points="189.80,686.60 190.68,688.79 193.03,688.95 191.23,690.46 191.80,692.75 189.80,691.50 187.80,692.75 188.37,690.46 186.57,688.95 188.92,688.79" fill="#7b3a42"/>
<polygon points="210.75,626.30 211.63,628.49 213.98,628.65 212.18,630.16 212.75,632.45 210.75,631.20 208.75,632.45 209.32,630.16 207.52,628.65 209.87,628.49" fill="#7b3a42"/>
<polygon points="231.70,671.70 232.58,673.89 234.93,674.05 233.13,675.56 233.70,677.85 231.70,676.60 229.70,677.85 230.27,675.56 228.47,674.05 230.82,673.89" fill="#7b3a42"/>
<polyline points="259.65,687.40 280.60,641.10 301.55,678.60" fill="none" stroke="#7b3a42" stroke-width="1.2"/>
<polygon points="259.65,684.00 260.53,686.19 262.88,686.35 261.08,687.86 261.65,690.15 259.65,688.90 257.65,690.15 258.22,687.86 256.42,686.35 258.77,686.19" fill="#7b3a42"/>
<polygon points="280.60,637.70 281.48,639.89 283.83,640.05 282.03,641.56 282.60,643.85 280.60,642.60 278.60,643.85 279.17,641.56 277.37,640.05 279.72,639.89" fill="#7b3a42"/>
<polygon points="301.55,675.20 302.43,677.39 304.78,677.55 302.98,679.06 303.55,681.35 301.55,680.10 299.55,681.35 300.12,679.06 298.32,677.55 300.67,677.39" fill="#7b3a42"/>
<text x="71.00" y="610.30" font-size="8.6" font-weight="bold" text-anchor="middle" fill="#111">GZ</text>
<text x="140.85" y="610.30" font-size="8.6" font-weight="bold" text-anchor="middle" fill="#111">DG</text>
<text x="210.70" y="610.30" font-size="8.6" font-weight="bold" text-anchor="middle" fill="#111">SZ</text>
<text x="280.55" y="610.30" font-size="8.6" font-weight="bold" text-anchor="middle" fill="#111">HZ</text>
<line x1="35.70" y1="597.80" x2="315.40" y2="597.80" stroke="#1c1c1c" stroke-width="1.25"/>
<line x1="35.70" y1="743.30" x2="315.40" y2="743.30" stroke="#1c1c1c" stroke-width="1.2"/>
<line x1="36.30" y1="597.80" x2="36.30" y2="743.30" stroke="#1c1c1c" stroke-width="1.2"/>
<line x1="315.40" y1="597.20" x2="315.40" y2="743.90" stroke="#7e444c" stroke-width="1.25"/>
<line x1="33.40" y1="743.00" x2="36.30" y2="743.00" stroke="#1c1c1c" stroke-width="1"/>
<line x1="34.70" y1="728.48" x2="36.30" y2="728.48" stroke="#1c1c1c" stroke-width="1"/>
<line x1="33.40" y1="713.96" x2="36.30" y2="713.96" stroke="#1c1c1c" stroke-width="1"/>
<line x1="34.70" y1="699.44" x2="36.30" y2="699.44" stroke="#1c1c1c" stroke-width="1"/>
<line x1="33.40" y1="684.92" x2="36.30" y2="684.92" stroke="#1c1c1c" stroke-width="1"/>
<line x1="34.70" y1="670.40" x2="36.30" y2="670.40" stroke="#1c1c1c" stroke-width="1"/>
<line x1="33.40" y1="655.88" x2="36.30" y2="655.88" stroke="#1c1c1c" stroke-width="1"/>
<line x1="34.70" y1="641.36" x2="36.30" y2="641.36" stroke="#1c1c1c" stroke-width="1"/>
<line x1="33.40" y1="626.84" x2="36.30" y2="626.84" stroke="#1c1c1c" stroke-width="1"/>
<line x1="34.70" y1="612.32" x2="36.30" y2="612.32" stroke="#1c1c1c" stroke-width="1"/>
<line x1="34.70" y1="597.80" x2="36.30" y2="597.80" stroke="#1c1c1c" stroke-width="1"/>
<text x="31.50" y="746.00" font-size="8.6" font-weight="bold" text-anchor="end" fill="#111">0</text>
<text x="31.50" y="716.96" font-size="8.6" font-weight="bold" text-anchor="end" fill="#111">20</text>
<text x="31.50" y="687.92" font-size="8.6" font-weight="bold" text-anchor="end" fill="#111">40</text>
<text x="31.50" y="658.88" font-size="8.6" font-weight="bold" text-anchor="end" fill="#111">60</text>
<text x="31.50" y="629.84" font-size="8.6" font-weight="bold" text-anchor="end" fill="#111">80</text>
<line x1="315.40" y1="743.00" x2="318.40" y2="743.00" stroke="#7e444c" stroke-width="1"/>
<line x1="315.40" y1="729.80" x2="317.20" y2="729.80" stroke="#7e444c" stroke-width="1"/>
<line x1="315.40" y1="716.60" x2="318.40" y2="716.60" stroke="#7e444c" stroke-width="1"/>
<line x1="315.40" y1="703.40" x2="317.20" y2="703.40" stroke="#7e444c" stroke-width="1"/>
<line x1="315.40" y1="690.20" x2="318.40" y2="690.20" stroke="#7e444c" stroke-width="1"/>
<line x1="315.40" y1="677.00" x2="317.20" y2="677.00" stroke="#7e444c" stroke-width="1"/>
<line x1="315.40" y1="663.80" x2="318.40" y2="663.80" stroke="#7e444c" stroke-width="1"/>
<line x1="315.40" y1="650.60" x2="317.20" y2="650.60" stroke="#7e444c" stroke-width="1"/>
<line x1="315.40" y1="637.40" x2="318.40" y2="637.40" stroke="#7e444c" stroke-width="1"/>
<line x1="315.40" y1="624.20" x2="317.20" y2="624.20" stroke="#7e444c" stroke-width="1"/>
<line x1="315.40" y1="611.00" x2="318.40" y2="611.00" stroke="#7e444c" stroke-width="1"/>
<line x1="315.40" y1="597.80" x2="317.20" y2="597.80" stroke="#7e444c" stroke-width="1"/>
<text x="319.80" y="745.90" font-size="8.4" stroke="#7e444c" stroke-width="0.3" text-anchor="start" fill="#7e444c">-8</text>
<text x="319.80" y="719.50" font-size="8.4" stroke="#7e444c" stroke-width="0.3" text-anchor="start" fill="#7e444c">-4</text>
<text x="319.80" y="693.10" font-size="8.4" stroke="#7e444c" stroke-width="0.3" text-anchor="start" fill="#7e444c">0</text>
<text x="319.80" y="666.70" font-size="8.4" stroke="#7e444c" stroke-width="0.3" text-anchor="start" fill="#7e444c">4</text>
<text x="319.80" y="640.30" font-size="8.4" stroke="#7e444c" stroke-width="0.3" text-anchor="start" fill="#7e444c">8</text>
<text x="319.80" y="613.90" font-size="8.4" stroke="#7e444c" stroke-width="0.3" text-anchor="start" fill="#7e444c">12</text>
<line x1="47.30" y1="743.30" x2="47.30" y2="745.90" stroke="#1c1c1c" stroke-width="1"/>
<text transform="translate(53.50 754.40) rotate(-22)" font-size="9.2" font-weight="bold" text-anchor="end" fill="#111">Morning</text>
<line x1="71.00" y1="743.30" x2="71.00" y2="745.90" stroke="#1c1c1c" stroke-width="1"/>
<text transform="translate(77.20 754.40) rotate(-22)" font-size="9.2" font-weight="bold" text-anchor="end" fill="#111">Noon</text>
<line x1="94.30" y1="743.30" x2="94.30" y2="745.90" stroke="#1c1c1c" stroke-width="1"/>
<text transform="translate(100.50 754.40) rotate(-22)" font-size="9.2" font-weight="bold" text-anchor="end" fill="#111">Night</text>
<line x1="117.15" y1="743.30" x2="117.15" y2="745.90" stroke="#1c1c1c" stroke-width="1"/>
<text transform="translate(123.35 754.40) rotate(-22)" font-size="9.2" font-weight="bold" text-anchor="end" fill="#111">Morning</text>
<line x1="140.85" y1="743.30" x2="140.85" y2="745.90" stroke="#1c1c1c" stroke-width="1"/>
<text transform="translate(147.05 754.40) rotate(-22)" font-size="9.2" font-weight="bold" text-anchor="end" fill="#111">Noon</text>
<line x1="164.15" y1="743.30" x2="164.15" y2="745.90" stroke="#1c1c1c" stroke-width="1"/>
<text transform="translate(170.35 754.40) rotate(-22)" font-size="9.2" font-weight="bold" text-anchor="end" fill="#111">Night</text>
<line x1="187.00" y1="743.30" x2="187.00" y2="745.90" stroke="#1c1c1c" stroke-width="1"/>
<text transform="translate(193.20 754.40) rotate(-22)" font-size="9.2" font-weight="bold" text-anchor="end" fill="#111">Morning</text>
<line x1="210.70" y1="743.30" x2="210.70" y2="745.90" stroke="#1c1c1c" stroke-width="1"/>
<text transform="translate(216.90 754.40) rotate(-22)" font-size="9.2" font-weight="bold" text-anchor="end" fill="#111">Noon</text>
<line x1="234.00" y1="743.30" x2="234.00" y2="745.90" stroke="#1c1c1c" stroke-width="1"/>
<text transform="translate(240.20 754.40) rotate(-22)" font-size="9.2" font-weight="bold" text-anchor="end" fill="#111">Night</text>
<line x1="256.85" y1="743.30" x2="256.85" y2="745.90" stroke="#1c1c1c" stroke-width="1"/>
<text transform="translate(263.05 754.40) rotate(-22)" font-size="9.2" font-weight="bold" text-anchor="end" fill="#111">Morning</text>
<line x1="280.55" y1="743.30" x2="280.55" y2="745.90" stroke="#1c1c1c" stroke-width="1"/>
<text transform="translate(286.75 754.40) rotate(-22)" font-size="9.2" font-weight="bold" text-anchor="end" fill="#111">Noon</text>
<line x1="303.85" y1="743.30" x2="303.85" y2="745.90" stroke="#1c1c1c" stroke-width="1"/>
<text transform="translate(310.05 754.40) rotate(-22)" font-size="9.2" font-weight="bold" text-anchor="end" fill="#111">Night</text>
<text transform="translate(16.52 670.00) rotate(-90)" font-size="8.93" font-weight="bold" text-anchor="middle" fill="#111">Summer Concentration (ppbv)</text>
<text transform="translate(337.97 669.70) rotate(-90)" font-size="9.50" stroke="#7e444c" stroke-width="0.25" text-anchor="middle" fill="#7e444c">PL-TVOCs Concentration (ppbv)</text>
<rect x="54.10" y="585.00" width="17.2" height="8.4" fill="#94bbee"/>
<text x="74.40" y="592.10" font-size="10.1" font-weight="bold" fill="#111">Ob-TVOCs</text>
<rect x="141.00" y="585.00" width="17.2" height="8.4" fill="#ea6c77"/>
<text x="161.20" y="592.10" font-size="10.1" font-weight="bold" fill="#111">In-TVOCs</text>
<line x1="222.50" y1="589.50" x2="241.20" y2="589.50" stroke="#7b3a42" stroke-width="1.1"/>
<polygon points="232.00,586.00 232.88,588.19 235.23,588.35 233.43,589.86 234.00,592.15 232.00,590.90 230.00,592.15 230.57,589.86 228.77,588.35 231.12,588.19" fill="#7b3a42"/>
<text x="244.10" y="592.10" font-size="10.1" font-weight="bold" fill="#111">PL-TVOCs</text>
<text x="2.2" y="600.70" font-size="16.5" font-weight="bold" fill="#000">(d)</text>
<rect x="378.50" y="702.80" width="8.40" height="39.20" fill="#94bbee" stroke="#7f9cc4" stroke-width="0.4"/>
<rect x="386.90" y="702.80" width="8.40" height="39.20" fill="#ea6c77" stroke="#b85862" stroke-width="0.4"/>
<rect x="399.45" y="720.20" width="8.40" height="21.80" fill="#94bbee" stroke="#7f9cc4" stroke-width="0.4"/>
<rect x="407.85" y="719.00" width="8.40" height="23.00" fill="#ea6c77" stroke="#b85862" stroke-width="0.4"/>
<rect x="420.40" y="711.30" width="8.40" height="30.70" fill="#94bbee" stroke="#7f9cc4" stroke-width="0.4"/>
<rect x="428.80" y="711.10" width="8.40" height="30.90" fill="#ea6c77" stroke="#b85862" stroke-width="0.4"/>
<rect x="448.45" y="672.50" width="8.40" height="69.50" fill="#94bbee" stroke="#7f9cc4" stroke-width="0.4"/>
<rect x="456.85" y="672.50" width="8.40" height="69.50" fill="#ea6c77" stroke="#b85862" stroke-width="0.4"/>
<rect x="469.40" y="686.60" width="8.40" height="55.40" fill="#94bbee" stroke="#7f9cc4" stroke-width="0.4"/>
<rect x="477.80" y="683.00" width="8.40" height="59.00" fill="#ea6c77" stroke="#b85862" stroke-width="0.4"/>
<rect x="490.35" y="652.90" width="8.40" height="89.10" fill="#94bbee" stroke="#7f9cc4" stroke-width="0.4"/>
<rect x="498.75" y="651.00" width="8.40" height="91.00" fill="#ea6c77" stroke="#b85862" stroke-width="0.4"/>
<rect x="518.40" y="698.20" width="8.40" height="43.80" fill="#94bbee" stroke="#7f9cc4" stroke-width="0.4"/>
<rect x="526.80" y="698.20" width="8.40" height="43.80" fill="#ea6c77" stroke="#b85862" stroke-width="0.4"/>
<rect x="539.35" y="718.00" width="8.40" height="24.00" fill="#94bbee" stroke="#7f9cc4" stroke-width="0.4"/>
<rect x="547.75" y="715.60" width="8.40" height="26.40" fill="#ea6c77" stroke="#b85862" stroke-width="0.4"/>
<rect x="560.30" y="707.30" width="8.40" height="34.70" fill="#94bbee" stroke="#7f9cc4" stroke-width="0.4"/>
<rect x="568.70" y="706.30" width="8.40" height="35.70" fill="#ea6c77" stroke="#b85862" stroke-width="0.4"/>
<rect x="588.35" y="703.20" width="8.40" height="38.80" fill="#94bbee" stroke="#7f9cc4" stroke-width="0.4"/>
<rect x="596.75" y="703.20" width="8.40" height="38.80" fill="#ea6c77" stroke="#b85862" stroke-width="0.4"/>
<rect x="609.30" y="699.20" width="8.40" height="42.80" fill="#94bbee" stroke="#7f9cc4" stroke-width="0.4"/>
<rect x="617.70" y="694.90" width="8.40" height="47.10" fill="#ea6c77" stroke="#b85862" stroke-width="0.4"/>
<rect x="630.25" y="684.00" width="8.40" height="58.00" fill="#94bbee" stroke="#7f9cc4" stroke-width="0.4"/>
<rect x="638.65" y="683.40" width="8.40" height="58.60" fill="#ea6c77" stroke="#b85862" stroke-width="0.4"/>
<path d="M382.70 692.30V702.80M381.10 692.30H384.30" stroke="#cfcfcf" stroke-width="0.8" fill="none"/>
<path d="M382.70 702.80V713.30M381.10 713.30H384.30" stroke="#3a3a3a" stroke-opacity="0.33" stroke-width="0.8" fill="none"/>
<path d="M391.10 691.30V702.80M389.50 691.30H392.70" stroke="#cfcfcf" stroke-width="0.8" fill="none"/>
<path d="M391.10 702.80V714.30M389.50 714.30H392.70" stroke="#3a3a3a" stroke-opacity="0.33" stroke-width="0.8" fill="none"/>
<path d="M403.65 718.20V720.20M402.05 718.20H405.25" stroke="#cfcfcf" stroke-width="0.8" fill="none"/>
<path d="M403.65 720.20V722.20M402.05 722.20H405.25" stroke="#3a3a3a" stroke-opacity="0.33" stroke-width="0.8" fill="none"/>
<path d="M412.05 717.50V719.00M410.45 717.50H413.65" stroke="#cfcfcf" stroke-width="0.8" fill="none"/>
<path d="M412.05 719.00V720.50M410.45 720.50H413.65" stroke="#3a3a3a" stroke-opacity="0.33" stroke-width="0.8" fill="none"/>
<path d="M424.60 706.10V711.30M423.00 706.10H426.20" stroke="#cfcfcf" stroke-width="0.8" fill="none"/>
<path d="M424.60 711.30V716.50M423.00 716.50H426.20" stroke="#3a3a3a" stroke-opacity="0.33" stroke-width="0.8" fill="none"/>
<path d="M433.00 706.10V711.10M431.40 706.10H434.60" stroke="#cfcfcf" stroke-width="0.8" fill="none"/>
<path d="M433.00 711.10V716.10M431.40 716.10H434.60" stroke="#3a3a3a" stroke-opacity="0.33" stroke-width="0.8" fill="none"/>
<path d="M452.65 649.50V672.50M451.05 649.50H454.25" stroke="#cfcfcf" stroke-width="0.8" fill="none"/>
<path d="M452.65 672.50V695.50M451.05 695.50H454.25" stroke="#3a3a3a" stroke-opacity="0.33" stroke-width="0.8" fill="none"/>
<path d="M461.05 649.50V672.50M459.45 649.50H462.65" stroke="#cfcfcf" stroke-width="0.8" fill="none"/>
<path d="M461.05 672.50V695.50M459.45 695.50H462.65" stroke="#3a3a3a" stroke-opacity="0.33" stroke-width="0.8" fill="none"/>
<path d="M473.60 668.30V686.60M472.00 668.30H475.20" stroke="#cfcfcf" stroke-width="0.8" fill="none"/>
<path d="M473.60 686.60V704.90M472.00 704.90H475.20" stroke="#3a3a3a" stroke-opacity="0.33" stroke-width="0.8" fill="none"/>
<path d="M482.00 663.20V683.00M480.40 663.20H483.60" stroke="#cfcfcf" stroke-width="0.8" fill="none"/>
<path d="M482.00 683.00V702.80M480.40 702.80H483.60" stroke="#3a3a3a" stroke-opacity="0.33" stroke-width="0.8" fill="none"/>
<path d="M494.55 614.90V652.90M492.95 614.90H496.15" stroke="#cfcfcf" stroke-width="0.8" fill="none"/>
<path d="M494.55 652.90V690.90M492.95 690.90H496.15" stroke="#3a3a3a" stroke-opacity="0.33" stroke-width="0.8" fill="none"/>
<path d="M502.95 612.00V651.00M501.35 612.00H504.55" stroke="#cfcfcf" stroke-width="0.8" fill="none"/>
<path d="M502.95 651.00V690.00M501.35 690.00H504.55" stroke="#3a3a3a" stroke-opacity="0.33" stroke-width="0.8" fill="none"/>
<path d="M522.60 686.60V698.20M521.00 686.60H524.20" stroke="#cfcfcf" stroke-width="0.8" fill="none"/>
<path d="M522.60 698.20V709.80M521.00 709.80H524.20" stroke="#3a3a3a" stroke-opacity="0.33" stroke-width="0.8" fill="none"/>
<path d="M531.00 686.60V698.20M529.40 686.60H532.60" stroke="#cfcfcf" stroke-width="0.8" fill="none"/>
<path d="M531.00 698.20V709.80M529.40 709.80H532.60" stroke="#3a3a3a" stroke-opacity="0.33" stroke-width="0.8" fill="none"/>
<path d="M543.55 712.00V718.00M541.95 712.00H545.15" stroke="#cfcfcf" stroke-width="0.8" fill="none"/>
<path d="M543.55 718.00V724.00M541.95 724.00H545.15" stroke="#3a3a3a" stroke-opacity="0.33" stroke-width="0.8" fill="none"/>
<path d="M551.95 710.30V715.60M550.35 710.30H553.55" stroke="#cfcfcf" stroke-width="0.8" fill="none"/>
<path d="M551.95 715.60V720.90M550.35 720.90H553.55" stroke="#3a3a3a" stroke-opacity="0.33" stroke-width="0.8" fill="none"/>
<path d="M564.50 698.50V707.30M562.90 698.50H566.10" stroke="#cfcfcf" stroke-width="0.8" fill="none"/>
<path d="M564.50 707.30V716.10M562.90 716.10H566.10" stroke="#3a3a3a" stroke-opacity="0.33" stroke-width="0.8" fill="none"/>
<path d="M572.90 697.60V706.30M571.30 697.60H574.50" stroke="#cfcfcf" stroke-width="0.8" fill="none"/>
<path d="M572.90 706.30V715.00M571.30 715.00H574.50" stroke="#3a3a3a" stroke-opacity="0.33" stroke-width="0.8" fill="none"/>
<path d="M592.55 699.80V703.20M590.95 699.80H594.15" stroke="#cfcfcf" stroke-width="0.8" fill="none"/>
<path d="M592.55 703.20V706.60M590.95 706.60H594.15" stroke="#3a3a3a" stroke-opacity="0.33" stroke-width="0.8" fill="none"/>
<path d="M600.95 699.80V703.20M599.35 699.80H602.55" stroke="#cfcfcf" stroke-width="0.8" fill="none"/>
<path d="M600.95 703.20V706.60M599.35 706.60H602.55" stroke="#3a3a3a" stroke-opacity="0.33" stroke-width="0.8" fill="none"/>
<path d="M613.50 685.60V699.20M611.90 685.60H615.10" stroke="#cfcfcf" stroke-width="0.8" fill="none"/>
<path d="M613.50 699.20V712.80M611.90 712.80H615.10" stroke="#3a3a3a" stroke-opacity="0.33" stroke-width="0.8" fill="none"/>
<path d="M621.90 679.10V694.90M620.30 679.10H623.50" stroke="#cfcfcf" stroke-width="0.8" fill="none"/>
<path d="M621.90 694.90V710.70M620.30 710.70H623.50" stroke="#3a3a3a" stroke-opacity="0.33" stroke-width="0.8" fill="none"/>
<path d="M634.45 665.00V684.00M632.85 665.00H636.05" stroke="#cfcfcf" stroke-width="0.8" fill="none"/>
<path d="M634.45 684.00V703.00M632.85 703.00H636.05" stroke="#3a3a3a" stroke-opacity="0.33" stroke-width="0.8" fill="none"/>
<path d="M642.85 663.60V683.40M641.25 663.60H644.45" stroke="#cfcfcf" stroke-width="0.8" fill="none"/>
<path d="M642.85 683.40V703.20M641.25 703.20H644.45" stroke="#3a3a3a" stroke-opacity="0.33" stroke-width="0.8" fill="none"/>
<line x1="442.75" y1="596.60" x2="442.75" y2="742.00" stroke="#8e8e8e" stroke-width="1.3" stroke-dasharray="5 5"/>
<line x1="512.70" y1="596.60" x2="512.70" y2="742.00" stroke="#8e8e8e" stroke-width="1.3" stroke-dasharray="5 5"/>
<line x1="582.65" y1="596.60" x2="582.65" y2="742.00" stroke="#8e8e8e" stroke-width="1.3" stroke-dasharray="5 5"/>
<polyline points="386.90,681.80 407.85,658.70 428.80,678.10" fill="none" stroke="#7b3a42" stroke-width="1.2"/>
<polygon points="386.90,678.40 387.78,680.59 390.13,680.75 388.33,682.26 388.90,684.55 386.90,683.30 384.90,684.55 385.47,682.26 383.67,680.75 386.02,680.59" fill="#7b3a42"/>
<polygon points="407.85,655.30 408.73,657.49 411.08,657.65 409.28,659.16 409.85,661.45 407.85,660.20 405.85,661.45 406.42,659.16 404.62,657.65 406.97,657.49" fill="#7b3a42"/>
<polygon points="428.80,674.70 429.68,676.89 432.03,677.05 430.23,678.56 430.80,680.85 428.80,679.60 426.80,680.85 427.37,678.56 425.57,677.05 427.92,676.89" fill="#7b3a42"/>
<polyline points="456.85,683.60 477.80,622.00 498.75,657.20" fill="none" stroke="#7b3a42" stroke-width="1.2"/>
<polygon points="456.85,680.20 457.73,682.39 460.08,682.55 458.28,684.06 458.85,686.35 456.85,685.10 454.85,686.35 455.42,684.06 453.62,682.55 455.97,682.39" fill="#7b3a42"/>
<polygon points="477.80,618.60 478.68,620.79 481.03,620.95 479.23,622.46 479.80,624.75 477.80,623.50 475.80,624.75 476.37,622.46 474.57,620.95 476.92,620.79" fill="#7b3a42"/>
<polygon points="498.75,653.80 499.63,655.99 501.98,656.15 500.18,657.66 500.75,659.95 498.75,658.70 496.75,659.95 497.32,657.66 495.52,656.15 497.87,655.99" fill="#7b3a42"/>
<polyline points="526.80,683.60 547.75,646.70 568.70,673.80" fill="none" stroke="#7b3a42" stroke-width="1.2"/>
<polygon points="526.80,680.20 527.68,682.39 530.03,682.55 528.23,684.06 528.80,686.35 526.80,685.10 524.80,686.35 525.37,684.06 523.57,682.55 525.92,682.39" fill="#7b3a42"/>
<polygon points="547.75,643.30 548.63,645.49 550.98,645.65 549.18,647.16 549.75,649.45 547.75,648.20 545.75,649.45 546.32,647.16 544.52,645.65 546.87,645.49" fill="#7b3a42"/>
<polygon points="568.70,670.40 569.58,672.59 571.93,672.75 570.13,674.26 570.70,676.55 568.70,675.30 566.70,676.55 567.27,674.26 565.47,672.75 567.82,672.59" fill="#7b3a42"/>
<polyline points="596.75,681.70 617.70,617.20 638.65,672.40" fill="none" stroke="#7b3a42" stroke-width="1.2"/>
<polygon points="596.75,678.30 597.63,680.49 599.98,680.65 598.18,682.16 598.75,684.45 596.75,683.20 594.75,684.45 595.32,682.16 593.52,680.65 595.87,680.49" fill="#7b3a42"/>
<polygon points="617.70,613.80 618.58,615.99 620.93,616.15 619.13,617.66 619.70,619.95 617.70,618.70 615.70,619.95 616.27,617.66 614.47,616.15 616.82,615.99" fill="#7b3a42"/>
<polygon points="638.65,669.00 639.53,671.19 641.88,671.35 640.08,672.86 640.65,675.15 638.65,673.90 636.65,675.15 637.22,672.86 635.42,671.35 637.77,671.19" fill="#7b3a42"/>
<text x="407.80" y="607.90" font-size="8.6" font-weight="bold" text-anchor="middle" fill="#111">GZ</text>
<text x="477.75" y="607.90" font-size="8.6" font-weight="bold" text-anchor="middle" fill="#111">DG</text>
<text x="547.70" y="607.90" font-size="8.6" font-weight="bold" text-anchor="middle" fill="#111">SZ</text>
<text x="617.65" y="607.90" font-size="8.6" font-weight="bold" text-anchor="middle" fill="#111">HZ</text>
<line x1="372.50" y1="596.60" x2="652.60" y2="596.60" stroke="#1c1c1c" stroke-width="1.25"/>
<line x1="372.50" y1="742.30" x2="652.60" y2="742.30" stroke="#1c1c1c" stroke-width="1.2"/>
<line x1="373.10" y1="596.60" x2="373.10" y2="742.30" stroke="#1c1c1c" stroke-width="1.2"/>
<line x1="652.60" y1="596.00" x2="652.60" y2="742.90" stroke="#7e444c" stroke-width="1.25"/>
<line x1="370.20" y1="742.00" x2="373.10" y2="742.00" stroke="#1c1c1c" stroke-width="1"/>
<line x1="371.50" y1="732.91" x2="373.10" y2="732.91" stroke="#1c1c1c" stroke-width="1"/>
<line x1="370.20" y1="723.83" x2="373.10" y2="723.83" stroke="#1c1c1c" stroke-width="1"/>
<line x1="371.50" y1="714.74" x2="373.10" y2="714.74" stroke="#1c1c1c" stroke-width="1"/>
<line x1="370.20" y1="705.65" x2="373.10" y2="705.65" stroke="#1c1c1c" stroke-width="1"/>
<line x1="371.50" y1="696.56" x2="373.10" y2="696.56" stroke="#1c1c1c" stroke-width="1"/>
<line x1="370.20" y1="687.48" x2="373.10" y2="687.48" stroke="#1c1c1c" stroke-width="1"/>
<line x1="371.50" y1="678.39" x2="373.10" y2="678.39" stroke="#1c1c1c" stroke-width="1"/>
<line x1="370.20" y1="669.30" x2="373.10" y2="669.30" stroke="#1c1c1c" stroke-width="1"/>
<line x1="371.50" y1="660.21" x2="373.10" y2="660.21" stroke="#1c1c1c" stroke-width="1"/>
<line x1="370.20" y1="651.12" x2="373.10" y2="651.12" stroke="#1c1c1c" stroke-width="1"/>
<line x1="371.50" y1="642.04" x2="373.10" y2="642.04" stroke="#1c1c1c" stroke-width="1"/>
<line x1="370.20" y1="632.95" x2="373.10" y2="632.95" stroke="#1c1c1c" stroke-width="1"/>
<line x1="371.50" y1="623.86" x2="373.10" y2="623.86" stroke="#1c1c1c" stroke-width="1"/>
<line x1="370.20" y1="614.77" x2="373.10" y2="614.77" stroke="#1c1c1c" stroke-width="1"/>
<line x1="371.50" y1="605.69" x2="373.10" y2="605.69" stroke="#1c1c1c" stroke-width="1"/>
<line x1="370.20" y1="596.60" x2="373.10" y2="596.60" stroke="#1c1c1c" stroke-width="1"/>
<text x="368.30" y="745.00" font-size="8.6" font-weight="bold" text-anchor="end" fill="#111">0</text>
<text x="368.30" y="726.83" font-size="8.6" font-weight="bold" text-anchor="end" fill="#111">20</text>
<text x="368.30" y="708.65" font-size="8.6" font-weight="bold" text-anchor="end" fill="#111">40</text>
<text x="368.30" y="690.48" font-size="8.6" font-weight="bold" text-anchor="end" fill="#111">60</text>
<text x="368.30" y="672.30" font-size="8.6" font-weight="bold" text-anchor="end" fill="#111">80</text>
<text x="368.30" y="654.12" font-size="8.6" font-weight="bold" text-anchor="end" fill="#111">100</text>
<text x="368.30" y="635.95" font-size="8.6" font-weight="bold" text-anchor="end" fill="#111">120</text>
<text x="368.30" y="617.77" font-size="8.6" font-weight="bold" text-anchor="end" fill="#111">140</text>
<text x="368.30" y="599.60" font-size="8.6" font-weight="bold" text-anchor="end" fill="#111">160</text>
<line x1="652.60" y1="742.00" x2="655.60" y2="742.00" stroke="#7e444c" stroke-width="1"/>
<line x1="652.60" y1="727.46" x2="654.40" y2="727.46" stroke="#7e444c" stroke-width="1"/>
<line x1="652.60" y1="712.92" x2="655.60" y2="712.92" stroke="#7e444c" stroke-width="1"/>
<line x1="652.60" y1="698.38" x2="654.40" y2="698.38" stroke="#7e444c" stroke-width="1"/>
<line x1="652.60" y1="683.84" x2="655.60" y2="683.84" stroke="#7e444c" stroke-width="1"/>
<line x1="652.60" y1="669.30" x2="654.40" y2="669.30" stroke="#7e444c" stroke-width="1"/>
<line x1="652.60" y1="654.76" x2="655.60" y2="654.76" stroke="#7e444c" stroke-width="1"/>
<line x1="652.60" y1="640.22" x2="654.40" y2="640.22" stroke="#7e444c" stroke-width="1"/>
<line x1="652.60" y1="625.68" x2="655.60" y2="625.68" stroke="#7e444c" stroke-width="1"/>
<line x1="652.60" y1="611.14" x2="654.40" y2="611.14" stroke="#7e444c" stroke-width="1"/>
<line x1="652.60" y1="596.60" x2="655.60" y2="596.60" stroke="#7e444c" stroke-width="1"/>
<text x="657.00" y="744.90" font-size="8.4" stroke="#7e444c" stroke-width="0.3" text-anchor="start" fill="#7e444c">-4</text>
<text x="657.00" y="715.82" font-size="8.4" stroke="#7e444c" stroke-width="0.3" text-anchor="start" fill="#7e444c">-2</text>
<text x="657.00" y="686.74" font-size="8.4" stroke="#7e444c" stroke-width="0.3" text-anchor="start" fill="#7e444c">0</text>
<text x="657.00" y="657.66" font-size="8.4" stroke="#7e444c" stroke-width="0.3" text-anchor="start" fill="#7e444c">2</text>
<text x="657.00" y="628.58" font-size="8.4" stroke="#7e444c" stroke-width="0.3" text-anchor="start" fill="#7e444c">4</text>
<text x="657.00" y="599.50" font-size="8.4" stroke="#7e444c" stroke-width="0.3" text-anchor="start" fill="#7e444c">6</text>
<line x1="384.10" y1="742.30" x2="384.10" y2="744.90" stroke="#1c1c1c" stroke-width="1"/>
<text transform="translate(389.90 754.00) rotate(-22)" font-size="9.2" font-weight="bold" text-anchor="end" fill="#111">Morning</text>
<line x1="407.80" y1="742.30" x2="407.80" y2="744.90" stroke="#1c1c1c" stroke-width="1"/>
<text transform="translate(413.60 754.00) rotate(-22)" font-size="9.2" font-weight="bold" text-anchor="end" fill="#111">Noon</text>
<line x1="431.10" y1="742.30" x2="431.10" y2="744.90" stroke="#1c1c1c" stroke-width="1"/>
<text transform="translate(436.90 754.00) rotate(-22)" font-size="9.2" font-weight="bold" text-anchor="end" fill="#111">Night</text>
<line x1="454.05" y1="742.30" x2="454.05" y2="744.90" stroke="#1c1c1c" stroke-width="1"/>
<text transform="translate(459.85 754.00) rotate(-22)" font-size="9.2" font-weight="bold" text-anchor="end" fill="#111">Morning</text>
<line x1="477.75" y1="742.30" x2="477.75" y2="744.90" stroke="#1c1c1c" stroke-width="1"/>
<text transform="translate(483.55 754.00) rotate(-22)" font-size="9.2" font-weight="bold" text-anchor="end" fill="#111">Noon</text>
<line x1="501.05" y1="742.30" x2="501.05" y2="744.90" stroke="#1c1c1c" stroke-width="1"/>
<text transform="translate(506.85 754.00) rotate(-22)" font-size="9.2" font-weight="bold" text-anchor="end" fill="#111">Night</text>
<line x1="524.00" y1="742.30" x2="524.00" y2="744.90" stroke="#1c1c1c" stroke-width="1"/>
<text transform="translate(529.80 754.00) rotate(-22)" font-size="9.2" font-weight="bold" text-anchor="end" fill="#111">Morning</text>
<line x1="547.70" y1="742.30" x2="547.70" y2="744.90" stroke="#1c1c1c" stroke-width="1"/>
<text transform="translate(553.50 754.00) rotate(-22)" font-size="9.2" font-weight="bold" text-anchor="end" fill="#111">Noon</text>
<line x1="571.00" y1="742.30" x2="571.00" y2="744.90" stroke="#1c1c1c" stroke-width="1"/>
<text transform="translate(576.80 754.00) rotate(-22)" font-size="9.2" font-weight="bold" text-anchor="end" fill="#111">Night</text>
<line x1="593.95" y1="742.30" x2="593.95" y2="744.90" stroke="#1c1c1c" stroke-width="1"/>
<text transform="translate(599.75 754.00) rotate(-22)" font-size="9.2" font-weight="bold" text-anchor="end" fill="#111">Morning</text>
<line x1="617.65" y1="742.30" x2="617.65" y2="744.90" stroke="#1c1c1c" stroke-width="1"/>
<text transform="translate(623.45 754.00) rotate(-22)" font-size="9.2" font-weight="bold" text-anchor="end" fill="#111">Noon</text>
<line x1="640.95" y1="742.30" x2="640.95" y2="744.90" stroke="#1c1c1c" stroke-width="1"/>
<text transform="translate(646.75 754.00) rotate(-22)" font-size="9.2" font-weight="bold" text-anchor="end" fill="#111">Night</text>
<text transform="translate(348.65 669.30) rotate(-90)" font-size="9.03" font-weight="bold" text-anchor="middle" fill="#111">Winter Concentration (ppbv)</text>
<text transform="translate(673.50 669.20) rotate(-90)" font-size="9.60" stroke="#7e444c" stroke-width="0.25" text-anchor="middle" fill="#7e444c">PL-TVOCs Concentration (ppbv)</text>
<rect x="393.60" y="584.20" width="17.2" height="8.4" fill="#94bbee"/>
<text x="413.90" y="591.30" font-size="10.1" font-weight="bold" fill="#111">Ob-TVOCs</text>
<rect x="480.10" y="584.20" width="17.2" height="8.4" fill="#ea6c77"/>
<text x="500.30" y="591.30" font-size="10.1" font-weight="bold" fill="#111">In-TVOCs</text>
<line x1="561.30" y1="588.70" x2="580.00" y2="588.70" stroke="#7b3a42" stroke-width="1.1"/>
<polygon points="570.80,585.20 571.68,587.39 574.03,587.55 572.23,589.06 572.80,591.35 570.80,590.10 568.80,591.35 569.37,589.06 567.57,587.55 569.92,587.39" fill="#7b3a42"/>
<text x="582.90" y="591.30" font-size="10.1" font-weight="bold" fill="#111">PL-TVOCs</text>
</svg>
</body></html>
